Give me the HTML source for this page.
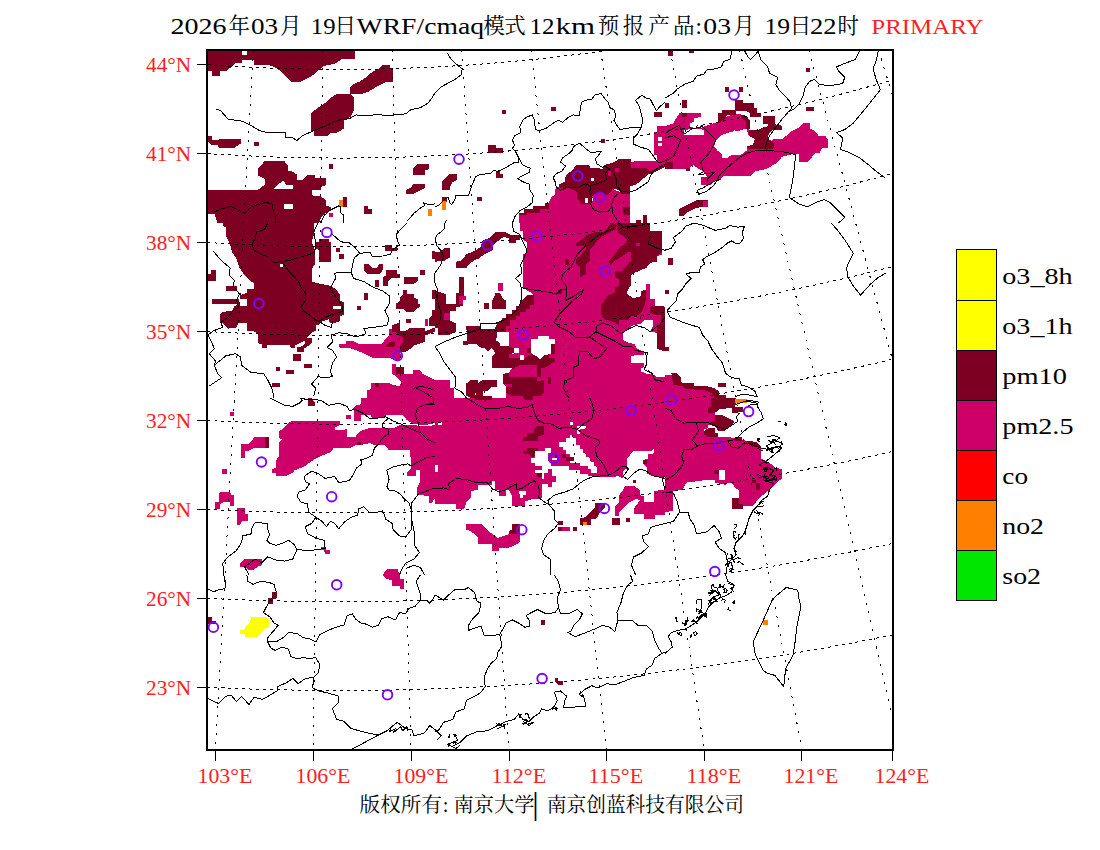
<!DOCTYPE html>
<html lang="zh"><head><meta charset="utf-8"><title>WRF/cmaq PRIMARY</title>
<style>html,body{margin:0;padding:0;background:#fff;width:1100px;height:850px;overflow:hidden}</style></head>
<body>
<svg width="1100" height="850" viewBox="0 0 1100 850" style="position:absolute;left:0;top:0">
<defs><clipPath id="cp"><rect x="208" y="51" width="684" height="698"/></clipPath></defs>
<rect width="1100" height="850" fill="#fff"/>
<g clip-path="url(#cp)" shape-rendering="crispEdges">
<polygon fill="#7d0023" points="207.1,50.1 354.5,50.1 354.5,58.5 343,58.5 334.6,63.7 324.2,65.8 319,70 311.6,76.2 301.2,81.5 290.7,81.5 285.5,76.2 280.3,71 274,66.8 267.7,64.7 254.1,64.7 254.1,59.5 241.6,59.5 241.6,62.6 236.4,62.6 231.1,67.2 225.9,71 219.6,71 219.6,75.6 212.3,75.6 212.3,71 207.1,71"/>
<polygon fill="#ffffff" points="241.6,51.1 246.8,51.1 246.8,55.3 241.6,55.3"/>
<polygon fill="#7d0023" points="382.7,65.1 390,65.1 390,68.9 392.8,68.9 392.8,81.5 384.8,82.5 376.5,86.7 368.1,91.9 359.7,94.4 350.3,94.4 350.3,86.7 353.5,84 359.7,81.5 366,77.3 372.3,72 378.5,68.9"/>
<polygon fill="#7d0023" points="335.7,94.4 351.4,94.4 353.9,97.1 353.9,110.7 350.3,117 344,120.1 344,128.5 336.7,132.7 330.5,132.7 327.3,136.2 314.1,136.2 314.1,131.6 311.2,130.6 311.2,112.8 314.1,110.7 317.9,107.6 325.2,102.8 330.5,98.2"/>
<polygon fill="#7d0023" points="207.1,135.8 212.3,135.8 212.3,140 217.5,140 219.6,139 241,139 241,143.1 238.5,145.2 233.2,148.4 219.6,148.4 217.5,145.2 212.3,145.2 207.1,141"/>
<polygon fill="#7d0023" points="254.1,141.7 258.9,141.7 258.9,146.3 254.1,146.3"/>
<polygon fill="#7d0023" points="264.6,161.3 284.5,161.3 287.6,165.1 287.6,170.3 291.8,171.4 297,174.5 297,179.7 303.3,179.7 307.5,174.5 314.8,174.5 314.8,177.6 325.9,177.6 325.9,185 321,187 321,190.2 311.6,190.2 311.6,195.4 321,196.5 326.3,200.6 326.3,205.9 330.5,206.9 330.5,211.1 325.2,213.2 321,217.4 319,223 207.1,223 207.1,190.2 257.3,190.2 261.5,187 264.6,185 264.6,178.7 258.3,175.5 258.3,168.2"/>
<polygon fill="#ffffff" points="277.1,185 283.4,180.8 286.5,185 292.8,185 292.8,189.1 273,189.1"/>
<polygon fill="#ffffff" points="284,203.8 293.2,203.8 293.2,209 284,209"/>
<polygon fill="#ffffff" points="207.1,214.2 214.4,214.2 217.5,223 207.1,223"/>
<polygon fill="#7d0023" points="328.8,164 333,164 333,168.9 328.8,168.9"/>
<polygon fill="#7d0023" points="417.2,164 428.7,164 428.7,169.3 424.5,170.3 424.5,174.5 413,174.5 413,168.2"/>
<polygon fill="#7d0023" points="413,183.9 425,183.9 425,187.7 420.4,190.2 414.1,193.7 406.1,193.7 406.1,190.2 411,187.7"/>
<polygon fill="#7d0023" points="343,196.9 346.8,196.9 346.8,206.5 343,206.5"/>
<polygon fill="#ff8000" points="339.2,200.2 343,200.2 343,206.5 339.2,206.5"/>
<polygon fill="#7d0023" points="364.3,205.9 368.1,205.9 368.1,209 371.9,209 371.9,213.8 364.3,213.8"/>
<polygon fill="#ff8000" points="428.3,209 431.9,209 431.9,216.3 428.3,216.3"/>
<polygon fill="#cd0069" points="329.4,213.2 333,213.2 333,216.5 329.4,216.5"/>
<polygon fill="#7d0023" points="501.9,109.7 506.1,109.7 506.1,113.9 501.9,113.9"/>
<polygon fill="#7d0023" points="551,107 555.9,107 555.9,110.7 551,110.7"/>
<polygon fill="#7d0023" points="601.2,139 605,139 605,142.7 601.2,142.7"/>
<polygon fill="#7d0023" points="654.1,112.4 661.9,112.4 661.9,117 654.1,117"/>
<polygon fill="#7d0023" points="488.3,145.2 495.6,145.2 495.6,148.4 503,148.4 503,152.5 488.3,152.5"/>
<polygon fill="#7d0023" points="495.6,171.4 499.8,171.4 499.8,173.5 503,173.5 503,177.6 495.6,177.6"/>
<polygon fill="#7d0023" points="476.8,196.9 482,196.9 482,201.1 476.8,201.1"/>
<polygon fill="#7d0023" points="449.2,174.1 457,174.1 457,180.1 452.8,181.8 449.6,187 449.6,190.2 442.3,190.2 442.3,180.8 445.5,177.6"/>
<polygon fill="#7d0023" points="442.3,196.9 446.5,196.9 446.5,201.7 442.3,201.7"/>
<polygon fill="#ff8000" points="442.3,200.6 445.9,200.6 445.9,209.6 442.3,209.6"/>
<polygon fill="#cd0069" points="518.6,215.3 527,215.3 527,213.2 539.5,213.2 539.5,209 549,209 549,202.7 551,197.5 555.2,194.4 555.2,189.1 560.5,185 568.8,188.1 577.2,192.3 577.2,198.5 581.4,203.8 590.8,203.8 590.8,198.5 593.9,194.4 600.2,192.3 606.5,195.4 612.7,189.1 621.1,192.3 629.5,194.4 629.5,223 518.6,223"/>
<polygon fill="#cd0069" points="657.1,126.4 665,126.4 665,162 633.6,162 633.6,160.9 656.6,160.9 656.6,154.6 654.1,154.6 654.1,131.6 657.1,131.6"/>
<polygon fill="#ffffff" points="658.3,136.9 661.9,136.9 661.9,141 658.3,141"/>
<polygon fill="#ffffff" points="658.3,143.1 661.9,143.1 661.9,146.3 658.3,146.3"/>
<polygon fill="#7d0023" points="577.2,164.5 588.7,164.5 590.8,168.2 600.2,168.2 604.4,165.1 614.8,162 619,158.8 630.5,158.8 630.5,162 665,160.9 665,167.2 656.6,171.4 648.3,174.5 642,179.7 635.7,185 629.5,186 629.5,194.4 623.2,194.4 621.1,192.3 616.9,189.1 612.7,189.1 610.6,192.3 606.5,195.4 600.2,192.3 593.9,194.4 590.8,198.5 590.8,203.8 581.4,203.8 577.2,198.5 577.2,192.3 568.8,188.1 560.5,188.1 558.4,185 564.6,181.8 565.7,175.5 570.9,171.4"/>
<polygon fill="#cd0069" points="630.5,162 665,160.9 665,165.1 656.6,168.2 650.4,171.4 646.2,168.2 630.5,168.2"/>
<polygon fill="#7d0023" points="523.9,208.6 533.3,208.6 533.3,205.9 544.8,205.9 544.8,203.1 549,203.1 549,209 539.5,209 539.5,213.2 527,213.2 527,215.3 518.6,215.3 518.6,213.2 523.9,213.2"/>
<polygon fill="#ffffff" points="590.8,177.6 593.9,177.6 593.9,180.8 590.8,180.8"/>
<polygon fill="#ffffff" points="584.5,197.5 587.6,197.5 587.6,202.7 584.5,202.7"/>
<polygon fill="#ffffff" points="590.8,197.5 592.9,197.5 592.9,200.6 590.8,200.6"/>
<polygon fill="#ffffff" points="600.2,166.1 603.3,166.1 603.3,169.3 600.2,169.3"/>
<polygon fill="#cd0069" points="614.8,168.2 619,168.2 619,172.4 614.8,172.4"/>
<polygon fill="#cd0069" points="607.5,171.4 610.6,171.4 610.6,175.5 607.5,175.5"/>
<polygon fill="#7d0023" points="623.2,206.9 629.5,206.9 629.5,215.3 623.2,215.3"/>
<polygon fill="#7d0023" points="635.7,219.5 641,219.5 641,223 635.7,223"/>
<polygon fill="#7d0023" points="643,215.3 647.2,215.3 647.2,223 643,223"/>
<polygon fill="#cd0069" points="679.6,113.2 701,113.2 701,117 694.3,118 694.3,121.2 690.1,123.3 690.1,127 699.5,128.5 706.8,125.4 714.1,123.3 721.5,120.1 727.7,116 737.1,113.9 743.4,114.9 746.5,121.2 748.6,129.5 754.9,131.6 769.5,144.2 773.7,139 782.1,139 786.3,135.8 790.5,131.6 798.8,127.5 803,123.3 810.3,123.3 810.3,128.5 815.5,131.6 818.7,135.8 825,135.8 828.1,140 828.1,148.4 821.8,148.4 819.7,152.5 814.5,153.6 811.4,157.8 807.2,162 798.8,162 798.8,153.6 790.5,154.6 782.1,156.7 777.9,162 771.6,166.1 765.4,169.3 754.9,171.4 750.7,175.5 723.5,175.5 720.4,179.7 714.1,181.8 710,185 700.5,185 700.5,177.6 706.8,176.6 703.7,171.4 699.5,169.3 693.2,165.1 688,169.3 673.4,169.3 673.4,162 665,162 665,126.4 673.4,123.3 675.5,119.1"/>
<polygon fill="#ffffff" points="716.2,140 720.4,135.8 727.7,132.7 733,131.6 734,129.5 737.1,131.6 746.5,128.5 748.6,135.8 754.9,139 752.8,145.2 746.5,146.3 746.5,150.5 741.3,154.6 731.9,154.6 727.7,157.8 721.5,157.8 721.5,153.6 717.3,150.5 714.1,146.3"/>
<polygon fill="#ffffff" points="683.8,130.6 691.1,128.5 699.5,128.5 703.7,130.6 703.7,134.8 683.8,134.8"/>
<polygon fill="#7d0023" points="735,100.3 742.8,100.3 742.8,103.4 753.9,103.4 753.9,107.6 757,107.6 757,113.2 761.2,113.2 761.2,117 749.7,117 749.7,113.2 745.5,110.7 735,110.7"/>
<polygon fill="#7d0023" points="721.5,110.1 736.1,110.1 736.1,114.5 727.7,114.5 725.6,118 721.5,121.2 718.3,123.3 718.3,113.2 721.5,113.2"/>
<polygon fill="#7d0023" points="741.3,114.5 746.5,116 749.7,120.1 749.7,128.5 746.5,128.5 745.5,121.2 741.3,118"/>
<polygon fill="#7d0023" points="763.3,116 774.8,116 774.8,124.3 782.1,125.8 782.1,129.5 773.7,129.5 769.5,132.7 767.5,137.9 773.7,143.1 773.7,148.4 765.4,149.4 746.5,148.4 746.5,145.9 752.8,145.2 754.9,139 748.6,135.8 749.7,129.5 759.1,129.5 763.3,127.5 767.5,126.4 767.5,123.7 763.3,123.7"/>
<polygon fill="#7d0023" points="668.1,51.1 672.9,51.1 672.9,55.9 668.1,55.9"/>
<polygon fill="#7d0023" points="689,50.1 694.3,50.1 694.3,52.6 689,52.6"/>
<polygon fill="#7d0023" points="725.2,87.3 728.8,87.3 728.8,91.5 725.2,91.5"/>
<polygon fill="#7d0023" points="739.2,87.3 742.8,87.3 742.8,91.5 739.2,91.5"/>
<polygon fill="#7d0023" points="682.1,100.3 686.5,100.3 686.5,107.6 682.1,107.6"/>
<polygon fill="#7d0023" points="665,102.8 668.8,102.8 668.8,107.6 665,107.6"/>
<polygon fill="#7d0023" points="681.7,113.2 686.5,113.2 686.5,116.6 681.7,116.6"/>
<polygon fill="#7d0023" points="806.1,67.9 809.9,67.9 809.9,71.6 806.1,71.6"/>
<polygon fill="#7d0023" points="806.1,107.2 813.9,107.2 813.9,110.7 806.1,110.7"/>
<polygon fill="#7d0023" points="665,162 672.9,162 672.9,168.6 665,168.6"/>
<polygon fill="#7d0023" points="685.9,168.2 689.7,168.2 689.7,171.4 685.9,171.4"/>
<polygon fill="#7d0023" points="696.4,200.2 707.9,200.2 707.9,206.5 703.7,206.5 696.4,208 690.1,211.1 685.9,213.2 682.8,216.3 679.2,216.3 679.2,209 682.8,206.9 689,203.8"/>
<polygon fill="#cd0069" points="702.6,200.6 707.9,200.6 707.9,206.5 702.6,206.5"/>
<polygon fill="#7d0023" points="222.8,223 313.7,223 314.8,231.4 311.6,241.8 314.8,250.2 314.8,264.8 311.6,269 311.6,281.5 319,283.6 330.5,285.7 336.7,289.9 339.9,295.1 339.9,300.4 344,302.5 344,315 339.9,316 339.9,321.3 332.5,323.4 329.4,322.3 329.4,319.2 322.1,321.3 319,324.4 315.8,325.5 315.8,330.7 311.6,332.8 307.5,337 304.3,341.1 300.1,343.2 294.9,345.3 294.9,347.8 290.7,347.8 289.7,345.3 266.7,345.3 266.7,347.8 261.5,347.8 261.5,344.3 258.3,343.2 258.3,334.9 255.2,331.7 246.8,330.7 246.8,323.4 238.5,323.4 236.4,327.5 228,328.6 222.8,323.4 219.6,321.3 219.6,315 222.8,311.9 232.2,310.8 234.3,306.6 239.5,303.5 239.5,295.1 246.8,293 246.8,288.9 254.1,288.9 254.1,283.6 250,280.5 244.7,275.3 239.5,268 236.4,258.5 232.2,252.3 230.1,243.9 225.9,235.5 225.9,227.2 222.8,226.1"/>
<polygon fill="#ffffff" points="239.5,299.3 246.8,299.3 246.8,305.6 239.5,305.6"/>
<polygon fill="#ffffff" points="279.9,264.4 283.4,264.4 283.4,266.9 279.9,266.9"/>
<polygon fill="#ffffff" points="333,305.6 340.9,305.6 340.9,308.7 333,308.7"/>
<polygon fill="#7d0023" points="211.3,270 215.9,270 215.9,280.5 208.1,280.5 208.1,274.2 211.3,274.2"/>
<polygon fill="#7d0023" points="225.9,285.7 237.4,285.7 237.4,291 225.9,291"/>
<polygon fill="#7d0023" points="212.3,299.3 238.5,299.3 238.5,304.1 212.3,304.1"/>
<polygon fill="#7d0023" points="319,238.7 329.4,238.7 329.4,241.8 330.5,241.8 330.5,261.7 319,261.7 319,250.2 314.8,248.1 314.8,241.8 319,241.8"/>
<polygon fill="#7d0023" points="336.3,248.1 339.9,248.1 339.9,251.9 336.3,251.9"/>
<polygon fill="#7d0023" points="338.8,253.9 344,253.9 344,259 338.8,259"/>
<polygon fill="#7d0023" points="431.9,251.2 435,251.2 435,258.5 431.9,258.5"/>
<polygon fill="#7d0023" points="374.8,279.5 379,279.5 379,286.8 374.8,286.8"/>
<polygon fill="#7d0023" points="420.4,270 425,270 425,274.9 420.4,274.9"/>
<polygon fill="#7d0023" points="403.2,289.9 406.8,289.9 406.8,293.7 403.2,293.7"/>
<polygon fill="#7d0023" points="364.3,293 368.1,293 368.1,299.9 364.3,299.9"/>
<polygon fill="#7d0023" points="357.2,306 360.8,306 360.8,309.8 357.2,309.8"/>
<polygon fill="#7d0023" points="431.9,289.9 435,289.9 435,299.3 431.9,299.3"/>
<polygon fill="#7d0023" points="406.1,318.8 411,318.8 411,322.9 406.1,322.9"/>
<polygon fill="#7d0023" points="293.2,353.7 300.8,353.7 300.8,360.6 293.2,360.6"/>
<polygon fill="#7d0023" points="276.1,366.9 279.9,366.9 279.9,370.6 276.1,370.6"/>
<polygon fill="#7d0023" points="286.1,370 293.9,370 293.9,374 286.1,374"/>
<polygon fill="#7d0023" points="304.3,364.1 312.1,364.1 312.1,367.9 304.3,367.9"/>
<polygon fill="#7d0023" points="271.9,383 279.9,383 279.9,386.7 271.9,386.7"/>
<polygon fill="#7d0023" points="385.2,245 392.1,245 392.1,248.1 397.4,248.1 397.4,251.2 385.2,251.2"/>
<polygon fill="#7d0023" points="363.9,263.8 368.1,263.8 372.3,268 376.5,268 379.6,263.8 382.7,263.8 382.7,270 379.6,274.2 368.1,274.2 363.9,270"/>
<polygon fill="#7d0023" points="385.9,270 397.4,270 397.4,274.2 399.5,274.2 399.5,277.8 392.1,277.8 388,281.5 388,285.7 382.7,285.7 382.7,277.4 385.9,275.3"/>
<polygon fill="#7d0023" points="403.6,276.9 417.9,276.9 417.9,281.1 414.1,283.6 403.6,283.6"/>
<polygon fill="#7d0023" points="404.7,293.7 414.1,293.7 414.1,298.3 417.9,298.7 417.9,303.5 420.4,303.5 420.4,306.6 417.2,308.7 414.1,311.9 406.8,311.9 403.6,308.7 396.3,308.7 396.3,303.5 399.5,301.4 399.5,297.2"/>
<polygon fill="#7d0023" points="431.9,309.8 435,309.8 435,325.5 428.7,325.5 428.7,319.2 431.9,316"/>
<polygon fill="#7d0023" points="305.4,338 311.6,338 311.6,343.2 307.5,346.4 304.3,348.5 304.3,351.6 297,351.6 297,347.4 301.6,346.4 305.4,343.2"/>
<polygon fill="#cd0069" points="424.5,319.2 428.3,319.2 428.3,325.5 424.5,325.5"/>
<polygon fill="#cd0069" points="389,328.6 392.1,328.6 392.1,331.7 395.3,331.7 399.5,335.9 402.6,337 402.6,343.2 399.5,346.4 399.5,351.6 401.5,356.8 397.4,361 389,357.9 372.3,357.9 366,354.7 359.7,351.6 351.4,348.5 338.8,347.4 338.8,344.3 346.1,344.3 346.1,341.1 353.5,341.1 359.7,344.3 381.7,344.3 384.8,340.1 389,335.9"/>
<polygon fill="#cd0069" points="392.1,364.1 396.3,364.1 396.3,367.3 403.6,367.3 403.6,373.5 413,373.5 413,370.4 420.4,370.4 422.5,373.5 428.7,376.7 435,379.8 435,398 367,398 367,390.3 371.2,389.2 371.2,383 389,383 393.2,385 399.5,386.1 401.5,381.9 397.4,377.7 392.1,373.5"/>
<polygon fill="#7d0023" points="392.1,325.5 399.5,322.3 399.5,330.7 405.7,330.7 411,327.5 424.5,327.5 424.5,331.7 435,327.5 435,331.7 424.5,335.9 424.5,342.2 414.1,345.3 411,348.5 405.7,351.6 399.5,351.6 399.5,346.4 402.6,343.2 402.6,337 399.5,335.9 395.3,331.7 392.1,331.7"/>
<polygon fill="#7d0023" points="389,342.2 395.3,342.2 395.3,346.4 385.9,347.4 385.9,345.3"/>
<polygon fill="#7d0023" points="395.7,367.3 403.6,367.3 403.6,373.5 395.7,373.5"/>
<polygon fill="#7d0023" points="374.8,383 379,383 379,386.7 374.8,386.7"/>
<polygon fill="#cd0069" points="519.7,223 519.7,230.3 522.8,231.4 522.8,239.7 527,241.8 527,252.3 522.8,254.4 522.8,287.8 533.3,294.1 533.3,295.1 527,295.1 522.8,299.3 518.6,303.5 512.4,308.7 506.1,312.9 499.8,318.1 495.6,322.3 491.5,325.5 476.8,325.5 466.4,325.5 466.4,333.8 476.8,337 476.8,342.2 484.1,346.4 491.5,346.4 495.6,348.5 495.6,352.6 491.5,356.8 491.5,369.4 497.7,369.4 504,373.5 504,379.8 501.9,381.9 501.9,388.2 504,390.3 504,398 665,398 665,223"/>
<polygon fill="#ffffff" points="650.4,223 665,223 665,251.2 661.9,251.2 661.9,231.4 650.4,231.4"/>
<polygon fill="#7d0023" points="610.6,223 616.9,223 614.8,229.3 608.5,233.5 602.3,236.6 597,240.8 593.9,246 589.7,250.2 589.7,260.6 585.5,264.8 585.5,274.2 580.3,277.4 580.3,268 576.1,263.8 576.1,259.6 581.4,254.4 585.5,250.2 585.5,246 576.1,246 576.1,242.9 581.4,239.7 585.5,235.5 593.9,232.4 602.3,232.4 606.5,229.3"/>
<polygon fill="#7d0023" points="616.9,223 650.4,223 650.4,231.4 661.9,231.4 661.9,251.2 656.6,256.5 656.6,261.7 650.4,262.7 646.2,268 641,270 633.6,273.2 630.5,275.3 630.5,285.7 627.4,291 627.4,294.1 633.6,298.3 641,296.2 641,291 646.2,289.9 646.2,298.3 644.1,306.6 641,312.9 636.8,316 631.5,316 627.4,320.2 619,320.2 619,325.5 614.8,322.3 604.4,319.2 601.2,315 601.2,304.5 604.4,300.4 608.5,295.1 614.8,293 614.8,287.8 619,285.7 619,279.5 614.8,276.3 614.8,271.1 622.1,271.1 627.4,264.8 630.5,260.6 630.5,252.3 627.4,252.3 622.1,256.5 614.8,260.6 610.6,264.8 608.5,260.6 614.8,254.4 619,248.1 625.3,243.9 627.4,239.7 623.2,235.5 619,233.5 616.9,229.3"/>
<polygon fill="#cd0069" points="635.7,242.9 639.9,242.9 639.9,246 635.7,246"/>
<polygon fill="#7d0023" points="650.4,306.6 661.9,305.6 665,305.6 665,323.4 660.8,323.4 660.8,315 656.6,315 650.4,312.9"/>
<polygon fill="#7d0023" points="656.6,327.5 661.9,323.4 665,323.4 665,351.6 656.6,348.5"/>
<polygon fill="#7d0023" points="565.1,259 569.2,259 569.2,264.8 565.1,264.8"/>
<polygon fill="#7d0023" points="558.4,289.9 562.1,289.9 562.1,293.7 558.4,293.7"/>
<polygon fill="#ffffff" points="665,250.2 661.9,251.2 661.9,254.4 656.6,256.5 656.6,261.7 650.4,262.7 646.2,268 641,270 633.6,273.2 630.5,275.3 630.5,285.7 627.4,291 627.4,294.1 633.6,298.3 641,296.2 641,291 646.2,289.9 646.2,283.6 650.4,283.6 650.4,299.3 654.5,299.3 654.5,305.6 665,306.6"/>
<polygon fill="#ffffff" points="623.2,333.8 627.4,329.6 632.6,325.5 641,323.4 644.1,320.2 652.5,320.2 653.5,325.5 650.4,331.7 656.6,332.8 656.6,348.5 665,351.6 665,376.7 656.6,376.7 651.4,373.5 646.2,373.5 641,371.5 641,368.3 644.1,367.3 644.1,363.1 630.5,363.1 630.5,355.8 644.1,354.7 644.1,351.6 636.8,348.5 634.7,344.3 627.4,342.2 623.2,340.1"/>
<polygon fill="#7d0023" points="527,295.1 533.7,295.1 533.7,302.5 529.1,305.6 522.8,310.8 517.6,315 512.4,319.2 508.2,323.4 506.1,326.5 506.1,333.8 496.7,333.8 496.7,339 501.9,340.1 501.9,344.3 509.2,346.4 514.5,347.4 514.5,350.5 509.2,353.7 495.6,353.7 495.6,348.5 491.5,346.4 484.1,346.4 476.8,342.2 476.8,337 466.4,333.8 466.4,325.5 476.8,325.5 491.5,325.5 495.6,322.3 499.8,318.1 506.1,312.9 512.4,308.7 518.6,303.5 522.8,299.3"/>
<polygon fill="#7d0023" points="491.5,353.7 514.5,353.7 519.7,355.8 519.7,360 523.9,360 523.9,355.8 528,351.6 531.2,356.8 534.3,354.7 537.5,357.9 544.8,357.9 547.9,355.8 551,355.8 551,365.2 545.8,365.2 545.8,369.4 541.6,369.4 541.6,377.7 544.8,377.7 544.8,398 504,398 504,390.3 501.9,388.2 501.9,381.9 504,379.8 504,373.5 497.7,369.4 491.5,369.4"/>
<polygon fill="#cd0069" points="509.2,356.8 519.7,360 531.2,361 531.2,365.2 519.7,365.2 514.5,369.4 509.2,367.3"/>
<polygon fill="#cd0069" points="514.5,369.4 530.1,365.2 530.1,377.7 537.5,377.7 537.5,370.4 541.6,370.4 541.6,381.9 537.5,381.9 530.1,378.8 518.6,378.8 514.5,376.7 509.2,376.7 509.2,372.5"/>
<polygon fill="#ffffff" points="531.2,340.1 537.5,337 547.9,337 551,340.1 555.2,340.1 555.2,344.3 551,344.3 551,351.6 555.2,351.6 555.2,354.7 547.9,355.8 544.8,357.9 537.5,357.9 534.3,354.7 531.2,356.8 528,351.6 531.2,348.5"/>
<polygon fill="#ffffff" points="514.5,347.4 528,348.5 528,351.6 523.9,355.8 523.9,360 519.7,360 519.7,355.8 514.5,353.7 509.2,353.7 514.5,350.5"/>
<polygon fill="#ffffff" points="501.9,340.1 509.2,337 509.2,346.4 501.9,344.3"/>
<polygon fill="#ffffff" points="496.7,337 501.9,337 501.9,340.1 496.7,340.1"/>
<polygon fill="#ffffff" points="504,381.9 511.3,384 511.3,387.1 504,388.2"/>
<polygon fill="#7d0023" points="495.6,232.4 506.1,232.4 510.3,234.5 519.7,234.5 519.7,239.7 515.5,239.7 515.5,242.9 509.2,242.9 509.2,238.7 504,236.6 499.8,239.7 495.6,242.9 492.5,246 492.5,250.2 484.1,254.4 478.9,258.5 473.7,260.6 469.5,263.8 466.4,268 455.9,268 455.9,261.7 461.1,260.6 466.4,254.4 473.7,251.2 481,247 482,240.8 490.4,237.6"/>
<polygon fill="#7d0023" points="435,252.3 439.2,252.3 444.4,248.1 449.6,248.1 449.6,257.5 444.4,260.6 435,261.7"/>
<polygon fill="#7d0023" points="435,289.9 439.2,292 445.5,294.1 445.5,303.5 455.9,303.5 455.9,293 459,293 459,276.9 463.6,276.9 463.6,296.2 466.4,296.2 466.4,305.6 459,306.6 455.9,306.6 455.9,310.8 449.6,310.8 449.6,320.2 455.9,323.4 455.9,331.7 449.6,334.9 438.1,334.9 438.1,328.6 435,327.5"/>
<polygon fill="#cd0069" points="459,296.2 466.4,296.2 466.4,303.5 459,303.5"/>
<polygon fill="#cd0069" points="444.4,312.9 449.6,312.9 449.6,320.2 444.4,320.2"/>
<polygon fill="#cd0069" points="497.7,283 503,283 503,291 497.7,291"/>
<polygon fill="#7d0023" points="495.6,293 499.8,293 506.1,303.5 506.1,309.8 491.5,309.8 491.5,303.5"/>
<polygon fill="#7d0023" points="484.1,303.5 488.9,303.5 488.9,309.8 484.1,309.8"/>
<polygon fill="#cd0069" points="435,379.8 449.6,379.8 449.6,388.2 453.8,388.2 453.8,398 435,398"/>
<polygon fill="#7d0023" points="466.4,384 471.6,379.8 495.6,379.8 495.6,388.2 488.3,390.3 495.6,394.5 495.6,398 466.4,398"/>
<polygon fill="#ffffff" points="482,390.3 488.3,390.3 488.3,394.5 482,394.5"/>
<polygon fill="#ffffff" points="463.2,300 558.3,300 558.3,398 463.2,398"/>
<polygon fill="#cd0069" points="533.5,300 533.5,304.6 529.7,304.6 529.7,308.5 525.8,308.5 525.8,312.4 519.6,312.4 519.6,316.2 515.8,316.2 515.8,320.1 510.4,320.1 510.4,325.5 505.7,325.5 505.7,331.7 508.8,331.7 508.8,346.4 513.5,347.9 513.5,354.1 508.8,354.1 508.8,358 511.9,358 511.9,368 508.8,372.6 502.6,374.2 502.6,383.5 505.7,386.5 505.7,398 558.3,398 558.3,300"/>
<polygon fill="#7d0023" points="519.6,300 533.5,300 533.5,304.6 529.7,304.6 529.7,308.5 525.8,308.5 525.8,312.4 519.6,312.4 519.6,316.2 515.8,316.2 515.8,320.1 510.4,320.1 510.4,325.5 505.7,325.5 505.7,331.7 497.2,331.7 497.2,328.6 494.9,328.6 498,321.6 501.9,321.6 501.9,317.8 505.7,317.8 505.7,313.9 511.9,313.9 511.9,310 515.8,310 515.8,306.2 519.6,306.2"/>
<polygon fill="#7d0023" points="466.3,325.5 481,325.5 481,328.6 497.2,328.6 497.2,336.3 495.7,340.2 499.5,342.5 499.5,346.4 508.8,346.4 513.5,347.9 513.5,353.3 508.8,354.1 508.8,358 511.9,358 511.9,368 491.8,368 491.8,357.2 495.7,353.3 491.8,347.9 488,351.8 484.1,347.9 481,347.9 476.4,344 463.2,344.8 463.2,341 467.1,341"/>
<polygon fill="#7d0023" points="508.8,358 519.6,358 519.6,354.9 523.5,354.9 523.5,359.5 528.1,355.6 532,354.1 536.6,356.4 540.5,359.5 544.4,354.9 549,354.1 549,358 555.2,358 555.2,361.8 550.5,363.4 550.5,364.9 544.4,368 540.5,368 540.5,380.4 544.4,380.4 544.4,392.7 540.5,395.8 532.8,395.8 532.8,399.7 522.7,399.7 522.7,395.8 511.9,395.8 505.7,392.7 505.7,386.5 511.9,386.5 511.9,383.5 502.6,383.5 502.6,374.2 508.8,372.6 511.9,369.5 511.9,358"/>
<polygon fill="#cd0069" points="511.9,369.5 519.6,364.9 536.6,364.9 536.6,377.3 508.8,377.3 508.8,372.6"/>
<polygon fill="#cd0069" points="536.6,377.3 540.5,377.3 540.5,381.1 536.6,381.1"/>
<polygon fill="#7d0023" points="536.6,370.3 540.5,370.3 540.5,376.5 536.6,376.5"/>
<polygon fill="#7d0023" points="551.3,344 555.2,344 555.2,354.1 551.3,354.1"/>
<polygon fill="#7d0023" points="527.4,347.9 531.2,347.9 531.2,352.5 527.4,352.5"/>
<polygon fill="#7d0023" points="548.2,377.3 551,377.3 551,383.5 548.2,383.5"/>
<polygon fill="#cd0069" points="508.8,354.9 515.8,354.9 515.8,358 508.8,358"/>
<polygon fill="#7d0023" points="470.2,380.4 477.9,380.4 477.9,383.5 481.8,380.4 496.5,380.4 496.5,386.5 491.8,386.5 488.7,390.4 482.5,391.2 482.5,395.8 491.8,395.8 491.8,398.9 474,398.9 470.2,397.4 466.3,395.8 466.3,383.5"/>
<polygon fill="#ffffff" points="483.3,391.2 485.6,391.2 485.6,394.3 483.3,394.3"/>
<polygon fill="#ffffff" points="474.8,392.7 476.4,392.7 476.4,395 474.8,395"/>
<polygon fill="#ffffff" points="531.2,339.4 538.2,339.4 538.2,336.3 549,336.3 549,339.4 555.2,339.4 555.2,344 551.3,344 551.3,354.1 544.4,354.9 540.5,359.5 536.6,356.4 532,354.1 531.2,352.5"/>
<polygon fill="#ffffff" points="497.2,336.3 505.7,331.7 508.8,331.7 508.8,346.4 499.5,346.4 499.5,342.5 495.7,340.2"/>
<polygon fill="#ffffff" points="513.5,347.9 518.9,347.9 518.9,353.3 513.5,353.3"/>
<polygon fill="#ffffff" points="519.6,354.9 523.5,354.9 523.5,359.5 519.6,359.5"/>
<polygon fill="#7d0023" points="484.1,303.1 488.7,303.1 488.7,309.3 484.1,309.3"/>
<polygon fill="#7d0023" points="491.8,300 505.7,300 505.7,309.3 491.8,309.3"/>
<polygon fill="#7d0023" points="668.1,258.1 672.9,258.1 672.9,264.8 668.1,264.8"/>
<polygon fill="#7d0023" points="665,289.9 668.8,289.9 668.8,293.7 665,293.7"/>
<polygon fill="#7d0023" points="665,347.4 668.8,347.4 668.8,351.2 665,351.2"/>
<polygon fill="#7d0023" points="718.3,383 725.6,383 725.6,386.7 718.3,386.7"/>
<polygon fill="#cd0069" points="665,374.6 671.3,374.6 673.4,381.9 682.8,383 685.9,386.1 703.7,387.1 706.8,389.2 714.1,390.3 719.4,394.5 725.6,395.5 725.6,398 665,398"/>
<polygon fill="#7d0023" points="671.3,372.5 675.5,372.5 680.7,377.7 681.7,383 694.3,383 694.3,386.1 706.8,386.1 714.1,388.2 719.4,391.3 719.4,394.5 725.6,395.5 725.6,398 714.1,398 712,393.4 704.7,390.3 696.4,389.6 685.9,389.2 682.8,386.1 673.4,385 672.3,378.8"/>
<polygon fill="#cd0069" points="360.8,398 435,398 435,423.1 424.5,425.2 414.1,424.1 406.8,420 402.6,414.7 386.9,414.7 384.8,417.9 372.3,417.9 370.2,414.7 360.8,414.7 360.8,421 353.5,421 353.5,408.5 356.6,405.3 360.8,404.3"/>
<polygon fill="#cd0069" points="290.7,421.4 339.9,421.4 339.9,425.2 334.6,427.3 334.6,430.4 343,430.4 347.2,428.3 347.2,436.7 355.5,436.7 359.7,431.5 368.1,428.3 393.2,428.3 399.5,425.2 414.1,425.2 424.5,426.2 435,425.2 435,498.4 431.9,502.5 428.7,502.5 428.7,496.3 417.2,494.2 417.2,487.9 420.4,481.6 420.4,470.1 416.2,470.1 416.2,476.4 406.8,476.4 406.8,472.2 411,469.1 411,462.8 409.9,450.3 389,450.3 386.9,447.1 384.8,445 374.4,445 370.2,443 360.8,445 355.5,445 349.3,448.2 333.6,448.2 330.5,452.4 322.1,455.5 315.8,458.6 309.5,462.8 303.3,467 294.9,470.1 291.8,473.3 284.5,476.4 276.1,476.4 276.1,473.3 271.9,473.3 271.9,469.1 276.1,468 276.1,460.7 279.2,455.5 279.2,441.9 282.4,439.8 279.2,437.7 279.2,431.5 283.4,428.3 286.5,425.2"/>
<polygon fill="#cd0069" points="254.1,437.3 268.8,437.3 268.8,447.8 254.1,447.8 250,450.3 244.7,451.3 244.7,457.6 240.5,457.6 240.5,444.4 248.9,443.6 252,440.9"/>
<polygon fill="#7d0023" points="265.2,437.3 268.8,437.3 268.8,447.8 265.2,447.8"/>
<polygon fill="#cd0069" points="229.7,411.6 234.3,411.6 234.3,415.8 229.7,415.8"/>
<polygon fill="#cd0069" points="346.1,414.7 350.7,414.7 350.7,418.9 346.1,418.9"/>
<polygon fill="#cd0069" points="222.1,469.1 226.5,469.1 226.5,473.7 222.1,473.7"/>
<polygon fill="#cd0069" points="219.6,492.1 230.1,492.1 231.1,495.2 233.9,495.2 233.9,505.7 230.1,505.7 229.7,501.5 224.9,501.5 219.6,504.6 219.6,508.8 215,508.8 215,502.5 218.6,501.5"/>
<polygon fill="#cd0069" points="237.4,507.8 244.7,507.8 244.7,514 247.9,514 247.9,521.4 241.6,521.4 240.5,524.5 237.4,524.5"/>
<polygon fill="#cd0069" points="244.7,559 261.5,559 261.5,565.3 258.3,566.3 254.1,569.5 247.9,569.5 244.7,566.9 240.1,566.9 240.1,563.2"/>
<polygon fill="#cd0069" points="321,546.9 325.9,546.9 325.9,550.2 330,550.2 330,554.4 325.2,554.4 324.2,550.6 321,549.6"/>
<polygon fill="#cd0069" points="386.9,569 397.4,569 399.5,575 382.7,575"/>
<polygon fill="#7d0023" points="307.5,398 311.6,398 314.8,402.2 314.8,405.9 307.5,405.9"/>
<polygon fill="#7d0023" points="357.2,441.5 360.8,441.5 360.8,445 357.2,445"/>
<polygon fill="#cd0069" points="435,398 665,398 665,477 656.6,477.5 648.3,474.3 636.8,474.3 633.6,478.5 623.2,478.5 619,476.4 602.3,477 588.7,475.8 579.3,480.6 573,485.8 568.8,490 560.5,493.1 554.2,495.2 549,500.5 541.6,498.4 537.5,499.4 531.2,499.4 524.9,501.5 524.9,505.7 512.4,505.7 512.4,496.3 509.2,490 506.1,490 506.1,496.3 498.8,496.3 498.8,490 494.6,490 494.6,480.6 491.5,480.6 491.5,484.8 477.9,484.8 477.9,490 470.5,491 470.5,498.4 466.4,502.5 464.3,508.8 455.9,508.8 455.9,503.6 435,503.6"/>
<polygon fill="#ffffff" points="541.6,490 568.8,490 560.5,493.1 554.2,495.2 549,500.5 541.6,498.4"/>
<polygon fill="#ffffff" points="627.4,458.6 630.5,454.5 633.6,451.3 650.4,451.3 653.5,449.2 653.5,453.4 648.3,454.5 648.3,458.6 644.1,459.7 644.1,464.9 647.2,467 647.2,474.3 636.8,474.3 633.6,478.5 623.2,478.5 623.2,471.2 627.4,468"/>
<polygon fill="#ffffff" points="569.9,422 573.4,422 573.4,425.2 569.9,425.2"/>
<polygon fill="#ffffff" points="577.2,426.2 585.5,426.2 585.5,428.3 580.3,429.4 580.3,433.5 577.2,433.5"/>
<polygon fill="#ffffff" points="438.1,422 442.3,422 442.3,425.2 438.1,425.2"/>
<polygon fill="#ffffff" points="435,464.9 437.5,464.9 437.5,472.2 435,472.2"/>
<polygon fill="#ffffff" points="518.6,491 526,491 526,495.2 522.8,495.2 522.8,497.9 519.7,497.9 519.7,495.2"/>
<polygon fill="#7d0023" points="527,432.5 534.3,432.5 534.3,429.4 537.5,426.2 543.7,426.2 543.7,434.6 537.5,436.7 537.5,440.9 522.8,440.9 522.8,437.7 527,436.7"/>
<polygon fill="#7d0023" points="527,448.2 537.5,448.2 537.5,455.5 531.2,457.6 530.1,454.5 522.8,453.4 522.8,451.3 527,451.3"/>
<polygon fill="#7d0023" points="643,460.3 647.2,460.3 647.2,463.9 643,463.9"/>
<polygon fill="#7d0023" points="633.2,479.5 636.1,479.5 636.1,482.7 633.2,482.7"/>
<polygon fill="#7d0023" points="474.7,398 491.5,398 491.5,399.7 474.7,399.7"/>
<polygon fill="#7d0023" points="523.9,398 533.3,398 533.3,399.7 523.9,399.7"/>
<polygon fill="#cd0069" points="623.2,490 625.3,485.8 633.6,485.8 636.8,487.9 639.9,490 639.9,495.2 644.1,496.3 648.3,492.1 650.4,486.9 653.5,486.9 653.5,491 661.9,490 665,490 665,515.1 654.5,515.1 654.5,519.3 644.1,519.3 644.1,514 633.6,514 633.6,508.8 639.9,500.5 636.8,498.4 629.5,502.5 624.2,507.8 619,512 619,516.1 614.8,516.1 614.8,506.7 619,502.5 619,495.2"/>
<polygon fill="#ffffff" points="650.4,486.9 653.5,486.9 653.5,501.5 644.1,501.5 644.1,496.3 648.3,492.1"/>
<polygon fill="#cd0069" points="466.4,524.1 482,524.1 485.2,527.6 489.4,531.8 495.6,536 497.7,538.1 509.2,533.9 509.2,530.8 512.4,529.7 512.4,524.1 519.7,524.1 519.7,542.3 516.5,544.4 509.2,547.5 499.8,547.5 498.8,550.6 491.5,550.6 491.5,544.4 477.9,544.4 477.9,537 474.7,533.9 469.5,530.8 466.4,529.7"/>
<polygon fill="#7d0023" points="512.4,524.1 518.6,524.1 518.6,533.9 509.2,533.9 509.2,530.8 512.4,529.7"/>
<polygon fill="#7d0023" points="595,502.5 605.4,502.5 605.4,506.7 600.2,512 596,519.3 590.8,519.3 590.8,524.5 580.3,524.5 580.3,518.2 585.5,517.2 590.8,512 595,507.8"/>
<polygon fill="#ff8000" points="583,521.8 587,521.8 587,524.9 583,524.9"/>
<polygon fill="#7d0023" points="611.7,518.2 620,518.2 620,524.5 611.7,524.5"/>
<polygon fill="#7d0023" points="626.3,517.6 630.1,517.6 630.1,521.8 626.3,521.8"/>
<polygon fill="#7d0023" points="557.9,521.4 562.5,521.4 562.5,524.9 557.9,524.9"/>
<polygon fill="#7d0023" points="557.9,527.2 562.1,527.2 562.1,530.8 557.9,530.8"/>
<polygon fill="#7d0023" points="573,527.2 576.8,527.2 576.8,530.8 573,530.8"/>
<polygon fill="#cd0069" points="562.1,527.2 569.9,527.2 569.9,530.8 562.1,530.8"/>
<polygon fill="#ffffff" points="570,435.1 572.9,435.1 572.9,438 575.8,438 575.8,445.3 580.2,445.3 580.2,448.5 583.1,448.5 583.1,453.3 586.4,453.6 586.4,457.3 590,457.6 590,461.3 594,462 594,465.6 596.9,466.7 596.9,472.9 591.1,472.9 591.1,469.3 588.2,469.3 588.2,466 580.2,465.6 580.2,462.7 570,462.7 570,460.5 574,460.5 574,457.3 570,457.3 570,454.4 566,454 566,450 562.7,450 562.7,446.7 559.1,446.7 559.1,442 566,442 566,438 570,438"/>
<polygon fill="#ffffff" points="531.1,458 535.1,458 535.1,451.1 544.9,451.1 544.9,448.2 551.1,448.2 551.1,453.3 548.2,453.3 548.2,460.5 551.1,464.2 551.1,466.4 569.3,466.4 569.3,469.6 580.2,469.6 580.2,473.6 587.5,473.6 587.5,476.5 589.6,477.3 583.8,483.8 576.5,487.5 573.6,490 542,490 542,483.5 543.8,483.5 543.8,478.7 542,478.7 542,472.9 535.1,472.9 535.1,469.6 541.6,469.6 541.6,466.4 535.1,466.4 535.1,462.7 531.1,462.7"/>
<polygon fill="#cd0069" points="547.8,469.3 551.8,469.3 551.8,475.8 555.8,475.8 555.8,482.4 551.8,482.4 551.8,486.7 547.8,486.7 547.8,483.5 543.8,483.5 543.8,472.9 547.8,472.9"/>
<polygon fill="#7d0023" points="537.3,473.3 541.6,473.3 541.6,476.5 537.3,476.5"/>
<polygon fill="#7d0023" points="562,454 565.6,454 565.6,457.6 562,457.6"/>
<polygon fill="#7d0023" points="565.6,457.3 574,457.3 574,460.5 565.6,460.5"/>
<polygon fill="#7d0023" points="555.1,455.1 556.9,455.1 556.9,457.6 555.1,457.6"/>
<polygon fill="#ffffff" points="551.8,458 556.9,458 556.9,459.8 551.8,459.8"/>
<polygon fill="#cd0069" points="665,398 711,398 711,406.4 707.9,408.5 707.9,412.6 715.2,412.6 715.2,423.1 707.9,425.2 707.9,428.3 703.7,429.4 703.7,434.6 708.9,436.7 736.1,437.7 746.5,440.9 757,441.9 761.2,447.1 761.2,458.6 765.4,460.7 769.5,462.8 775.8,468 782.1,469.1 782.1,478.5 777.9,481.6 773.7,485.8 769.5,490 765.4,493.1 761.2,496.3 757,500.5 752.8,505.7 742.4,505.7 742.4,508.8 731.9,508.8 731.9,498.4 739.2,498.4 739.2,490 735,487.9 731.9,482.7 727.7,482.7 725.6,484.8 715.2,482.7 715.2,479.5 710,479.5 685.9,482.7 682.8,490 673.4,491 673.4,510.9 665,512"/>
<polygon fill="#ffffff" points="719.4,470.1 724.6,470.1 724.6,480 719.4,480"/>
<polygon fill="#7d0023" points="711,398 736.1,398 736.1,404.3 734,407.4 719.4,409.5 715.2,412.6 707.9,412.6 707.9,408.5 711,406.4"/>
<polygon fill="#7d0023" points="731.9,407.4 743.4,407.4 743.4,411.6 737.1,412.6 731.9,412.6"/>
<polygon fill="#7d0023" points="715.2,414.7 721.5,414.7 727.7,417.9 734,421 733,425.2 727.7,427.3 725.6,430.4 718.3,431.5 715.2,426.2 710,425.2 710,422 715.2,421"/>
<polygon fill="#7d0023" points="707.9,428.3 715.2,428.3 715.2,432.5 718.3,432.5 718.3,436.7 707.9,436.7 703.7,434.6 703.7,431.5"/>
<polygon fill="#7d0023" points="735,436.7 742.4,436.7 742.4,440.9 735,440.9"/>
<polygon fill="#7d0023" points="746.5,440.9 757,441.9 761.2,447.1 752.8,447.1 748.6,444"/>
<polygon fill="#7d0023" points="714.1,470.1 718.9,470.1 718.9,473.7 714.1,473.7"/>
<polygon fill="#7d0023" points="752.4,479.5 756,479.5 756,483.3 752.4,483.3"/>
<polygon fill="#7d0023" points="756,482.7 760.1,482.7 760.1,490 756,490"/>
<polygon fill="#7d0023" points="731.9,498.4 739.2,498.4 739.2,503.6 742.8,503.6 742.8,508.8 731.9,508.8"/>
<polygon fill="#ff8000" points="735.3,399 747,399 747,403 735.3,403"/>
<polygon fill="#cd0069" points="382.7,575 399.5,575 399.5,579.2 403.6,579.2 403.6,588.6 399.5,588.6 399.5,585.5 392.1,585.5 392.1,580.2 386.9,579.2"/>
<polygon fill="#7d0023" points="271.9,592.1 276.7,592.1 276.7,598.4 273,599 273,604.3 267.7,604.3 267.7,598.4 271.9,597.6"/>
<polygon fill="#7d0023" points="208.1,616.8 212.3,616.8 212.3,621 215.5,621 215.5,624.1 208.1,624.1"/>
<polygon fill="#ffff00" points="251,616.8 265.6,616.8 268.8,620 268.8,627.3 265.6,628.3 261.5,632.5 258.3,636.7 244.7,636.7 244.7,633.5 240.1,633.5 240.1,630.4 243.7,629.8 246.8,625.2 250,623.1"/>
<polygon fill="#7d0023" points="541,620.4 544.8,620.4 544.8,624.8 541,624.8"/>
<polygon fill="#7d0023" points="555.2,677.9 558.4,677.9 558.4,681.2 563,681.2 563,685.4 558.4,685.4 555.2,682.1"/>
<polygon fill="#ff8000" points="763.3,620 767.9,620 767.9,624.8 763.3,624.8"/>
<g fill="none" stroke="#000" stroke-width="1" stroke-dasharray="3 4">
<path stroke-dasharray="2 7" d="M183.8 50.0L117.8 750.0"/>
<path stroke-dasharray="2 7" d="M253.2 50.0L215.5 750.0"/>
<path stroke-dasharray="2 7" d="M322.7 50.0L313.2 750.0"/>
<path stroke-dasharray="2 7" d="M392.2 50.0L411.0 750.0"/>
<path stroke-dasharray="2 7" d="M461.7 50.0L508.8 750.0"/>
<path stroke-dasharray="2 7" d="M531.1 50.0L606.5 750.0"/>
<path stroke-dasharray="2 7" d="M600.6 50.0L704.2 750.0"/>
<path stroke-dasharray="2 7" d="M670.1 50.0L802.0 750.0"/>
<path stroke-dasharray="2 7" d="M739.6 50.0L899.8 750.0"/>
<path stroke-dasharray="2 7" d="M809.0 50.0L997.5 750.0"/>
<path stroke-dasharray="2 7" d="M878.5 50.0L1095.2 750.0"/>
<path d="M207.5 64.6L219.5 65.5L231.5 66.2L243.5 66.9L255.5 67.4L267.5 67.9L279.5 68.4L291.5 68.7L303.5 69.0L315.5 69.2L327.5 69.3L339.5 69.4L351.5 69.3L363.5 69.2L375.5 69.1L387.5 68.8L399.5 68.5L411.5 68.0L423.5 67.6L435.5 67.0L447.5 66.3L459.5 65.6L471.5 64.8L483.5 63.9L495.5 63.0L507.5 62.0L519.5 60.8L531.5 59.7L543.5 58.4L555.5 57.0L567.5 55.6L579.5 54.1L591.5 52.5L603.5 50.9L615.5 49.1L627.5 47.3L639.5 45.4L651.5 43.4L663.5 41.3L675.5 39.2L687.5 36.9L699.5 34.6L711.5 32.2L723.5 29.8L735.5 27.2L747.5 24.5L759.5 21.8L771.5 19.0L783.5 16.1L795.5 13.1L807.5 10.0L819.5 6.8L831.5 3.6L843.5 0.2L855.5 -3.2L867.5 -6.8L879.5 -10.4L891.5 -14.1"/>
<path d="M207.5 153.6L219.5 154.3L231.5 155.0L243.5 155.7L255.5 156.2L267.5 156.7L279.5 157.1L291.5 157.4L303.5 157.7L315.5 157.9L327.5 158.0L339.5 158.0L351.5 158.0L363.5 157.9L375.5 157.7L387.5 157.5L399.5 157.2L411.5 156.8L423.5 156.3L435.5 155.8L447.5 155.2L459.5 154.5L471.5 153.8L483.5 152.9L495.5 152.0L507.5 151.1L519.5 150.0L531.5 148.9L543.5 147.7L555.5 146.5L567.5 145.1L579.5 143.7L591.5 142.3L603.5 140.7L615.5 139.1L627.5 137.4L639.5 135.6L651.5 133.7L663.5 131.8L675.5 129.8L687.5 127.7L699.5 125.6L711.5 123.3L723.5 121.0L735.5 118.6L747.5 116.2L759.5 113.6L771.5 111.0L783.5 108.3L795.5 105.5L807.5 102.6L819.5 99.7L831.5 96.6L843.5 93.5L855.5 90.3L867.5 87.0L879.5 83.7L891.5 80.2"/>
<path d="M207.5 242.5L219.5 243.2L231.5 243.9L243.5 244.5L255.5 245.0L267.5 245.4L279.5 245.8L291.5 246.1L303.5 246.4L315.5 246.5L327.5 246.7L339.5 246.7L351.5 246.7L363.5 246.6L375.5 246.4L387.5 246.2L399.5 245.9L411.5 245.5L423.5 245.1L435.5 244.6L447.5 244.0L459.5 243.4L471.5 242.7L483.5 241.9L495.5 241.1L507.5 240.2L519.5 239.2L531.5 238.2L543.5 237.0L555.5 235.9L567.5 234.6L579.5 233.3L591.5 231.9L603.5 230.4L615.5 228.9L627.5 227.3L639.5 225.7L651.5 223.9L663.5 222.1L675.5 220.2L687.5 218.3L699.5 216.3L711.5 214.2L723.5 212.0L735.5 209.8L747.5 207.4L759.5 205.1L771.5 202.6L783.5 200.1L795.5 197.5L807.5 194.8L819.5 192.0L831.5 189.2L843.5 186.3L855.5 183.3L867.5 180.2L879.5 177.1L891.5 173.9"/>
<path d="M207.5 331.5L219.5 332.2L231.5 332.8L243.5 333.3L255.5 333.8L267.5 334.2L279.5 334.6L291.5 334.9L303.5 335.1L315.5 335.3L327.5 335.4L339.5 335.4L351.5 335.4L363.5 335.3L375.5 335.1L387.5 334.9L399.5 334.6L411.5 334.3L423.5 333.9L435.5 333.4L447.5 332.9L459.5 332.3L471.5 331.6L483.5 330.9L495.5 330.1L507.5 329.3L519.5 328.3L531.5 327.4L543.5 326.3L555.5 325.2L567.5 324.0L579.5 322.8L591.5 321.5L603.5 320.1L615.5 318.7L627.5 317.2L639.5 315.6L651.5 313.9L663.5 312.2L675.5 310.5L687.5 308.6L699.5 306.7L711.5 304.8L723.5 302.7L735.5 300.6L747.5 298.4L759.5 296.2L771.5 293.9L783.5 291.5L795.5 289.1L807.5 286.6L819.5 284.0L831.5 281.3L843.5 278.6L855.5 275.8L867.5 272.9L879.5 270.0L891.5 266.9"/>
<path d="M207.5 420.4L219.5 421.1L231.5 421.6L243.5 422.2L255.5 422.6L267.5 423.0L279.5 423.4L291.5 423.6L303.5 423.9L315.5 424.0L327.5 424.1L339.5 424.1L351.5 424.1L363.5 424.0L375.5 423.9L387.5 423.7L399.5 423.4L411.5 423.1L423.5 422.7L435.5 422.3L447.5 421.8L459.5 421.2L471.5 420.6L483.5 419.9L495.5 419.1L507.5 418.3L519.5 417.5L531.5 416.5L543.5 415.5L555.5 414.5L567.5 413.4L579.5 412.2L591.5 411.0L603.5 409.7L615.5 408.3L627.5 406.9L639.5 405.4L651.5 403.9L663.5 402.2L675.5 400.6L687.5 398.8L699.5 397.0L711.5 395.2L723.5 393.3L735.5 391.3L747.5 389.2L759.5 387.1L771.5 384.9L783.5 382.7L795.5 380.4L807.5 378.0L819.5 375.6L831.5 373.1L843.5 370.5L855.5 367.8L867.5 365.1L879.5 362.4L891.5 359.5"/>
<path d="M207.5 509.4L219.5 510.0L231.5 510.5L243.5 511.0L255.5 511.5L267.5 511.8L279.5 512.2L291.5 512.4L303.5 512.6L315.5 512.8L327.5 512.9L339.5 512.9L351.5 512.9L363.5 512.8L375.5 512.7L387.5 512.5L399.5 512.2L411.5 511.9L423.5 511.5L435.5 511.1L447.5 510.6L459.5 510.1L471.5 509.5L483.5 508.9L495.5 508.2L507.5 507.4L519.5 506.6L531.5 505.7L543.5 504.7L555.5 503.7L567.5 502.7L579.5 501.6L591.5 500.4L603.5 499.2L615.5 497.9L627.5 496.5L639.5 495.1L651.5 493.7L663.5 492.1L675.5 490.6L687.5 488.9L699.5 487.2L711.5 485.5L723.5 483.6L735.5 481.8L747.5 479.8L759.5 477.8L771.5 475.7L783.5 473.6L795.5 471.4L807.5 469.2L819.5 466.9L831.5 464.5L843.5 462.1L855.5 459.6L867.5 457.0L879.5 454.4L891.5 451.7"/>
<path d="M207.5 598.3L219.5 598.9L231.5 599.4L243.5 599.9L255.5 600.3L267.5 600.7L279.5 601.0L291.5 601.2L303.5 601.4L315.5 601.6L327.5 601.6L339.5 601.7L351.5 601.7L363.5 601.6L375.5 601.5L387.5 601.3L399.5 601.0L411.5 600.7L423.5 600.4L435.5 600.0L447.5 599.5L459.5 599.0L471.5 598.5L483.5 597.8L495.5 597.2L507.5 596.4L519.5 595.6L531.5 594.8L543.5 593.9L555.5 593.0L567.5 592.0L579.5 590.9L591.5 589.8L603.5 588.6L615.5 587.4L627.5 586.1L639.5 584.8L651.5 583.4L663.5 581.9L675.5 580.4L687.5 578.9L699.5 577.3L711.5 575.6L723.5 573.9L735.5 572.1L747.5 570.2L759.5 568.3L771.5 566.4L783.5 564.4L795.5 562.3L807.5 560.2L819.5 558.0L831.5 555.7L843.5 553.4L855.5 551.0L867.5 548.6L879.5 546.1L891.5 543.6"/>
<path d="M207.5 687.3L219.5 687.8L231.5 688.3L243.5 688.8L255.5 689.2L267.5 689.5L279.5 689.8L291.5 690.0L303.5 690.2L315.5 690.4L327.5 690.4L339.5 690.5L351.5 690.4L363.5 690.4L375.5 690.3L387.5 690.1L399.5 689.9L411.5 689.6L423.5 689.2L435.5 688.9L447.5 688.4L459.5 687.9L471.5 687.4L483.5 686.8L495.5 686.2L507.5 685.5L519.5 684.7L531.5 683.9L543.5 683.1L555.5 682.2L567.5 681.2L579.5 680.2L591.5 679.1L603.5 678.0L615.5 676.9L627.5 675.6L639.5 674.4L651.5 673.0L663.5 671.7L675.5 670.2L687.5 668.7L699.5 667.2L711.5 665.6L723.5 664.0L735.5 662.3L747.5 660.5L759.5 658.7L771.5 656.8L783.5 654.9L795.5 652.9L807.5 650.9L819.5 648.8L831.5 646.7L843.5 644.5L855.5 642.3L867.5 639.9L879.5 637.6L891.5 635.2"/>
</g>
<g fill="none" stroke="#000" stroke-width="1" stroke-linejoin="round">
<path d="M216.5 109.3L220.7 110.7L228 119.1L242.6 121.2L248.9 124.3L259.4 130.6L267.7 132.7L285.5 132.7L285.5 137.9L292.8 137.9L297 140.4L302.2 135.8L311.6 131.6L326.3 125.4L338.8 120.1L349.3 118.7L356.6 114.5L358.7 116L370.2 115.3L378.5 114.5L390 116L395.3 114.5L405.7 113.9L411 109.7L420.4 107.6L427.7 103.4L431.9 98.2L435 93"/>
<path d="M214.4 212.1L220.7 209L231.1 206.5L244.7 213.2L251 206.9L265.6 202.3L271.9 203.8L274 213.2L276.1 215.3L275 223"/>
<path d="M321 222.6L324.2 215.3L330.5 210L338.8 205.9L340.9 206.9L340.9 213.2L344 215.3L343 223"/>
<path d="M406.8 221.5L414.1 213.2L420.4 208L424.5 205.9L423.5 202.7L426.6 203.8L429.8 204.8L435 203.8"/>
<path d="M447.5 53.2L450.7 58.5L455.9 63.7L462.2 68.9L461.1 74.8L454.9 79.4L447.5 83.5L441.3 86.7L435 93"/>
<path d="M435 206.9L439.2 204.8L445.5 198.5L448.6 197.5L449.6 202.7L451.7 204.8L455.9 197.5L455.9 195.4L468.5 195.4L471.6 186L475.8 176.6L480 174.5L490.4 173.5L493.5 170.3L497.7 171.4L505 168.2L513.4 163L518.6 162L518.6 157.8L515.5 151.5L512.4 148.4L514.5 145.2L512.4 140L514.5 135.8L520.7 132.7L519.7 126.4L522.8 120.1L527 117L532.2 114.9L534.3 120.1L535.4 129.5L539.5 130.6L545.8 128.5L553.1 123.3L558.4 120.1L562.5 122.2L568.8 117L573 114.9L579.3 116L580.3 108.6L581.4 102.4L585.5 100.3L591.8 99.2L595 95L601.2 93.6L604.4 98.2L608.5 102.4L609.6 107.6L613.8 109.7L615.9 116L613.8 120.1L616.9 125.4L620 129.5L631.5 127.5L641 127.5L643 121.2L641 112.8L638.9 105.5L635.7 100.3L642 95L646.2 98.2L650.4 99.2L653.5 105.5L656.6 110.7L659.8 106.5L665 102.4"/>
<path d="M641 127.5L637.8 133.7L633.6 137.9L633.6 144.2L641 147.3L648.3 149.4L652.5 154.6L656.6 160.9L659.8 163L665 160.9"/>
<path d="M518.6 157.8L522.8 165.1L530.1 168.2L529.1 172.4L522.8 175.5L517.6 178.7L522.8 181.8L529.1 183.9L530.1 190.2L533.3 195.4L532.2 202.7L527 206.9L520.7 210L515.5 215.3L512.4 223"/>
<path d="M579.3 143.1L585.5 148.4L590.8 152.5L601.2 151.5L598.1 155.7L595 158.8L597 164L602.3 167.2L605.4 166.1L608.5 169.3L605.4 173.5L606.5 179.7L602.3 181.8L596 183.9L590.8 186L585.5 183.9L579.3 187L568.8 187L560.5 190.2L556.3 187L555.2 181.8L553.1 177.6L556.3 173.5L561.5 171.4L565.7 166.1L560.5 162L562.5 157.8L568.8 153.6L572 150.5L574 146.3L579.3 143.1"/>
<path d="M605.4 166.1L612.7 171.4L615.9 177.6L616.9 186L621.1 191.2L614.8 196.5L611.7 203.8L612.7 213.2L616.9 219.5L619 223"/>
<path d="M590.8 186L589.7 192.3L591.8 198.5L590.8 204.8L593.9 210L600.2 212.1L608.5 211.1L611.7 206.9"/>
<path d="M621.1 191.2L629.5 192.3L635.7 190.2L642 186L648.3 181.8L650.4 175.5L653.5 171.4L658.7 167.2L665 164"/>
<path d="M665 98.2L673.4 93L677.5 88.8L685.9 83.5L693.2 81.5L696.4 76.2L703.7 74.1L706.8 70L715.2 68.9L721.5 66.8L723.5 61.6L729.8 59.5L731.9 51.1"/>
<path d="M744.5 50.5L747.6 56.4L750.7 59.5L754.9 55.3L758 51.1L761.2 60.5L767.5 66.8L769.5 73.1L777.9 77.3L775.8 84.6L779 89.8L785.2 96.1L790.5 102.4L791.5 108.6L788.4 111.8"/>
<path d="M788.4 111.8L794.6 108.6L798.8 104.5L803 96.1L805.1 87.7L809.3 81.5L814.5 79.4L819.7 84.6L830.2 85.6L842.7 83.5L844.8 77.3L838.5 71L836.5 66.8L846.9 62.6L855.3 59.5L859.5 51.1"/>
<path d="M878.3 51.1L876.2 60.5L873 68.9L876.2 79.4L880.4 89.8L872 100.3L863.6 110.7L853.2 123.3L844.8 129.5L836.5 132.7L842.7 137.9L840.6 149.4L849 152.5L859.5 157.8L868.9 165.1L876.2 171.4L884.5 177.6"/>
<path d="M788.4 111.8L782.1 119.1L775.8 127.5L769.5 135.8L765.4 146.3L766.4 150.5L757 150.5L748.6 152.5L740.3 156.7L734 162L725.6 169.3L719.4 175.5L717.3 179.7L710 183.9L702.6 188.1L697.4 190.2L698.5 194.4L706.8 191.2L713.1 186L716.2 181.8L720.4 178.7"/>
<path d="M766.4 150.5L782.1 151.5L795.7 154.6L794.6 165.1L792.5 181.8L789.4 197.5L798.8 203.8L807.2 206.9L815.5 202.7L823.9 199.6L830.2 202.7L838.5 211.1L844.8 217.4L838.5 223"/>
<path d="M665 133.7L671.3 129.5L679.6 125.4L681.7 131.6L684.9 133.7L692.2 128.5L700.5 127.5L701.6 125.4L706.8 130.6L712 135.8L716.2 140L712 148.4L707.9 154.6L700.5 163L703.7 171.4L698.5 174.5L708.9 173.5L714.1 172.4L707.9 178.7L707.9 181.8"/>
<path d="M665 137.9L673.4 135.8L680.7 140L677.5 148.4L673.4 156.7L665 160.9"/>
<path d="M267.7 223L264.6 229.3L256.2 232.4L255.2 238.7L252 243.9L254.1 250.2L261.5 254.4L267.7 256.5L274 262.7L280.3 261.7L288.6 260.6L299.1 257.5L309.5 254.4L314.8 252.3L315.8 243.9L314.8 237.6L313.7 231.4L317.9 223"/>
<path d="M280.3 261.7L285.5 265.9L288.6 271.1L294.9 277.4L299.1 282.6L301.2 287.8L305.4 293L305.4 300.4L301.2 306.6L303.3 310.8L309.5 315L315.8 320.2L319 321.3L324.2 318.1L330.5 315L338.8 312.9L343 310.8L342 305.6L338.8 300.4L334.6 295.1L330.5 288.9L332.5 283.6L335.7 278.4L334.6 273.2L340.9 272.1L351.4 272.8L352.4 264.8L354.5 257.5L359.7 253.3L370.2 252.3L372.3 256.5L382.7 256L390 254.4L393.2 249.1L399.5 245L397.4 240.8L396.3 234.5L400.5 229.3L406.8 223"/>
<path d="M332.5 234.5L340.9 241.8L349.3 242.9L355.5 248.1L359.7 253.3"/>
<path d="M213.4 251.2L218.6 257.5L223.8 262.7L230.1 268L229 275.3L234.3 280.5L233.2 285.7L239.5 294.1L236.4 300.4L238.5 306.6L233.2 310.8L228 317.1L220.7 322.3L222.8 327.5L213.4 330.7L208.1 334.9"/>
<path d="M351.4 272.8L353.5 278.4L363.9 281.5L372.3 286.8L382.7 291L390 296.2L389 304.5L384.8 310.8L389 319.2L386.9 325.5L372.3 327.5L363.9 328.6L366 333.8L355.5 337L347.2 333.8L338.8 332.8L331.5 334.9L332.5 342.2L327.3 347.4L332.5 350.5L336.7 356.8L332.5 363.1L330.5 371.5L332.5 376.7L324.2 377.7L317.9 376.7L311.6 384L315.8 388.2L313.7 396.5"/>
<path d="M208.1 334.9L214.4 348.5L209.2 353.7L215.5 361L214.4 365.2L225.9 355.8L235.3 353.7L240.5 356.8L241.6 365.2L251 372.5L263.5 373.5L267.7 379.8L271.9 388.2L274 398"/>
<path d="M214.4 365.2L217.5 373.5L221.7 377.7L209.2 386.1"/>
<path d="M319 321.3L325.2 325.5L331.5 327.5L332.5 321.3"/>
<path d="M414.1 388.2L420.4 386.1L428.7 388.2L435 390.3"/>
<path d="M512.4 223L513.4 231.4L519.7 234.5L522.8 241.8L527 250.2L523.9 258.5L520.7 264.8L521.8 273.2L515.5 278.4L520.7 283.6L521.8 294.1L520.7 302.5L516.5 310.8L506.1 319.2L495.6 323.4L480 323.4L480 328.6L468.5 332.8L455.9 337L443.4 342.2L435 346.4"/>
<path d="M521.8 287.8L533.3 289.9L547.9 292L556.3 294.1L560.5 289.9L566.7 289.9L565.7 284.7L561.5 280.5L562.5 274.2L570.9 266.9L577.2 254.4L585.5 246L598.1 235.5L612.7 229.3L619 223"/>
<path d="M566.7 289.9L565.7 300.4L574 296.2L583.5 289.9L581.4 294.1L570.9 302.5L560.5 312.9L554.2 322.3L558.4 326.5L568.8 331.7L575.1 337L589.7 337L596 331.7L596 326.5L602.3 323.4L610.6 325.5L621.1 333.8L627.4 329.6L635.7 325.5L644.1 327.5L650.4 331.7L660.8 323.4L665 317.1"/>
<path d="M589.7 337L600.2 344.3L606.5 348.5L600.2 356.8L593.9 358.9L587.6 351.6L579.3 351.6L578.2 365.2L574 367.3L573 377.7L564.6 380.9L563.6 388.2L568.8 398"/>
<path d="M596 331.7L606.5 337L614.8 341.1L623.2 346.4L631.5 346.4L635.7 350.5L647.2 352.6L646.2 365.2L644.1 369.4L652.5 373.5L654.5 379.8L665 381.9"/>
<path d="M435 289.9L439.2 306.6L441.3 315L439.2 323.4L435 325.5"/>
<path d="M435 346.4L439.2 352.6L443.4 361L449.6 369.4L455.9 377.7L454.9 388.2L462.2 392.4L466.4 398"/>
<path d="M619 223L623.2 227.2L631.5 226.1L642 225.1L648.3 223"/>
<path d="M650.4 235.5L648.3 243.9L656.6 248.1L665 250.2"/>
<path d="M665 250.2L671.3 248.1L675.5 241.8L673.4 237.6L681.7 231.4L685.9 226.1L694.3 223L702.6 225.1L710 228.2L715.2 230.3L725.6 228.2L729.8 225.5L738.2 227.2L744.5 226.1L742.4 232.4L743.4 238.7L740.3 242.9L736.1 243.9L731.9 240.8L727.7 242.9L721.5 248.1L715.2 252.3L706.8 256.5L702.6 259.6L704.7 263.8L700.5 266.9L699.5 272.1L692.2 272.1L685.9 274.2L691.1 278.4L685.9 283.6L681.7 289.9L677.5 294.1L676.5 300.4L671.3 305.6L667.1 310.8L670.2 317.1L677.5 320.2L685.9 323.4L699.5 327.5L702.6 334.9L707.9 341.1L712 349.5L717.3 356.8L722.5 363.1L725.6 373.5L731.9 377.7L739.2 378.8L741.3 385L748.6 387.1L754.9 391.3L757 396.5L748.6 394.9L740.3 394.9L735 396.5"/>
<path d="M831.2 223L838.5 231.4L846.9 242.9L853.2 253.3L849 261.7L846.5 268L848 277.4L853.2 285.7L860.5 295.1L871 283.6L878.3 277.4L885.6 273.2"/>
<path d="M269.8 398L276.1 401.1L284.5 405.3L292.8 406.4L299.1 403.2L302.2 400.1L300.1 398"/>
<path d="M300.1 398L307.5 399.7L314.8 399"/>
<path d="M314.8 399L322.1 401.1L328.4 405.3L338.8 403.2L347.2 406.4L349.3 410.5L355.5 409.5L363.9 413.7L370.2 418.9L378.5 417.9L385.9 416.8L388 418.9L382.7 423.1L382.7 427.3L389 429.4L388 434.6L382.7 437.7L378.5 444L374.4 448.2L372.3 455.5L366 458.6L360.8 459.7L361.8 463.9L356.6 468L353.5 474.3L349.3 480.6L338.8 482.7L334.6 476.4L325.2 478.5L317.9 473.3L311.6 471.2L304.3 476.4L305.4 481.6L309.5 483.7L305.4 490L299.1 492.1L297 496.3L301.2 502.5L307.5 503.6L308.5 512L315.8 517.2L322.1 521.4L326.3 526.6L330.5 521.4L334.6 523.5L338.8 528.7L345.1 521.4L351.4 517.2L357.6 515.1L358.7 508.8L363.9 506.7L370.2 513L378.5 512L382.7 510.9L385.9 519.3L392.1 523.5L393.2 529.7L399.5 536L405.7 537L411 529.7L412 521.4L411 508.8L408.9 502.5L403.6 498.4L400.5 494.2L395.3 491L389 490L386.9 486.9L389 479.5L386.9 470.1L393.2 467L401.5 464.9L407.8 463.9L411 466L418.3 461.8L426.6 457.6L435 456.5"/>
<path d="M385.9 416.8L393.2 421L403.6 425.2L412 429.4L420.4 432.5L426.6 438.8L435 443"/>
<path d="M435 404.3L426.6 404.3L418.3 407.4L415.1 414.7L418.3 423.1L420.4 432.5"/>
<path d="M315.8 517.2L311.6 523.5L305.4 526.6L307.5 533.9L315.8 538.1L324.2 540.2L325.2 548.5L309.5 550.6L297 549.6L293.9 544.4L288.6 540.2L282.4 543.3L276.1 545.4L269.8 543.3L266.7 540.2L269.8 535L267.7 528.7L267.7 523.5L255.2 522.4L252 527.6L251 533.9L242.6 536L241.6 542.3L236.4 550.6L228 556.9L222.8 563.2L223.8 575"/>
<path d="M297 549.6L292.8 559L284.5 561.1L276.1 560L267.7 556.9L261.5 563.2L255.2 559L244.7 566.9L248.9 575"/>
<path d="M412 521.4L414.1 531.8L414.1 544.4L419.3 552.7L414.1 559L405.7 563.2L401.5 569.5L399.5 575"/>
<path d="M405.7 568.4L414.1 565.3L420.4 567.4L424.5 575"/>
<path d="M435 487.9L426.6 491L418.3 494.2L412 502.5L411 508.8"/>
<path d="M466.4 398L476.8 404.3L485.2 408.5L497.7 408.5L508.2 406.4L518.6 408.5L527 407.4L532.2 404.3L534.3 412.6L537.5 420L543.7 423.1L552.1 424.1L558.4 428.3L568.8 427.3L577.2 429.4L583.5 424.1L591.8 418.9L593.9 410.5L591.8 402.2L589.7 398"/>
<path d="M577.2 429.4L585.5 435.6L598.1 439.8L600.2 443L595 448.2L597 456.5L602.3 462.8L606.5 471.2L608.5 475.4L614.8 472.2L621.1 467L625.3 466L628.4 469.1L623.2 476.4L627.4 479.5L633.6 473.3L639.9 469.1L646.2 471.2L654.5 476.4L661.9 477.5L665 476.4"/>
<path d="M435 489L443.4 487.9L449.6 490L448.6 483.7L455.9 478.5L466.4 479.5L476.8 482.7L487.3 482.7L492.5 489L499.8 492.1L507.1 489L512.4 485.8L516.5 483.7L516.5 490L522.8 487.9L529.1 483.7L534.3 480.6L538.5 485.8L539.5 492.1L538.5 497.3L543.7 501.5L549 504.6"/>
<path d="M549 504.6L547.9 500.5L554.2 495.2L564.6 492.1L573 489L579.3 483.7L585.5 479.5L593.9 476.4L608.5 475.4"/>
<path d="M549 504.6L554.2 510.9L554.2 519.3L558.4 523.5L554.2 528.7L547.9 533.9L543.7 540.2L541.6 548.5L543.7 554.8L550 559L551 575"/>
<path d="M665 523.5L656.6 525.5L650.4 527.6L648.3 533.9L642 536L644.1 542.3L648.3 546.5L642 552.7L633.6 556.9L631.5 565.3L635.7 575"/>
<path d="M661.9 477.5L665 490"/>
<path d="M665 408.5L671.3 410.5L675.5 418.9L683.8 423.1L696.4 422L706.8 422L715.2 426.2L725.6 429.4L731.9 425.2L738.2 421L736.1 416.8L740.3 412.6"/>
<path d="M746.5 401.1L757 403.2L758 407.4L761.2 412.6L763.3 418.9L757 423.1L748.6 427.3L742.4 432.5L738.2 436.7L734 439.8L727.7 440.9L731.9 447.1L738.2 448.2L744.5 443L752.8 445L761.2 448.2L767.5 449.2"/>
<path d="M736.1 404.3L748.6 400.1L759.1 402.2L757 404.3L747.6 405.3"/>
<path d="M727.7 440.9L719.4 443L706.8 443L697.4 446.1L692.2 449.2L683.8 449.2L681.7 456.5L683.8 462.8L679.6 469.1L673.4 475.4L665 480.6"/>
<path d="M696.4 422L698.5 431.5L692.2 439.8L697.4 446.1"/>
<path d="M665 492.1L673.4 493.1L677.5 502.5L679.6 512L688 512L690.1 519.3L694.3 525.5L696.4 533.9L706.8 531.8L714.1 525.5L719.4 531.8L721.5 538.1L715.2 542.3L719.4 548.5L725.6 552.7L727.7 563.2L725.6 575"/>
<path d="M767.5 449.2L777.9 446.1L782.1 448.2L775.8 453.4L769.5 458.6L763.3 462.8L759.1 464.9L765.4 469.1L773.7 470.1L769.5 476.4L765.4 480.6L773.7 483.7L769.5 490L767.5 496.3L761.2 500.5L757 506.7L752.8 510.9L748.6 519.3L746.5 527.6L742.4 536L736.1 542.3L734 548.5L736.1 554.8L729.8 561.1L727.7 567.4"/>
<path d="M665 523.5L673.4 521.4L679.6 512"/>
<path d="M767.5 436.7L773.7 435.6L780 437.7L775.8 440.9L782.1 443L779 448.2L773.7 447.1L769.5 450.3L766.4 446.1L771.6 443L768.5 439.8"/>
<path d="M761.2 470.1L767.5 467L773.7 471.2L769.5 474.3L775.8 476.4L770.6 479.5L763.3 477.5L765.4 473.3"/>
<path d="M757 512L760.1 514L758 516.1"/>
<path d="M768.5 448.8L767 448.8L766.8 449.6L768.5 447.3"/>
<path d="M766.8 448.6L767.5 450.3L768.7 448.8L770.4 449.4L768.1 448.4L766.4 449.2L766.4 451.3"/>
<path d="M777.1 450.9L777.3 451.3L780 451.3L779 451.3"/>
<path d="M778.3 450.5L777.9 451.3L780.4 449L781 450.3"/>
<path d="M771 447.1L771 449.6L769.3 448.4L772.1 448.4L774.6 447.8L776.7 447.6L778.1 446.9"/>
<path d="M776.9 441.1L774.4 442.1L772.1 440L774.1 439.4L775.4 439.2L774.4 441.3"/>
<path d="M776 444.6L774.1 443L771.2 441.1L773.7 441.5L773.1 440.4"/>
<path d="M776 479.5L773.7 478.7L771.6 480.6L773.7 479.1"/>
<path d="M762 460.5L764.9 461.1L766.8 463.4L766.8 462.6L769.3 462.6"/>
<path d="M775 477.9L774.8 476.8L774.1 479.1L774.1 479.5L772.7 476.6L771.6 474.5"/>
<path d="M767.7 480.6L770.6 480.2L770 480.4L772.5 479.5L772.9 478.7"/>
<path d="M774.1 469.1L775.4 468.7L775.6 468.7L776.9 468.7L776.9 467.8L776.9 470.1L776.7 470.6"/>
<path d="M775.4 474.7L776.2 477.5L776.9 479.3L776.9 480L776.9 480L775.6 480.6L776.9 480.6"/>
<path d="M757.6 506.5L759.9 506.3L760.6 506.9L762.9 506.7L763.3 505.1L764.5 505.3"/>
<path d="M762.4 503.8L761 501.7L763.5 501.1L760.6 502.8L758.7 505.3"/>
<path d="M754.5 510.9L754.3 512.2L756.6 513.4L759.1 512.8L760.8 512.6L763.3 514.7"/>
<path d="M735.9 533.1L735.9 531.8L733 532L733 535L733 535.2L733 536.8L734.8 535.4"/>
<path d="M744.9 532.2L745.5 531.8L744.5 532.7L745.5 534.5L745.5 532.2L745.5 533.3"/>
<path d="M739.2 534.1L738 536.6L739.9 539.1L741.9 536.4L740.7 537.5L739.6 539.1L737.8 538.7"/>
<path d="M736.5 537.5L735.5 539.3L733 536.6L733.8 535.4L734 535.2"/>
<path d="M732.7 560.7L734.8 562.3L733.4 559.6L731.3 559"/>
<path d="M735.7 554.2L736.1 551.5L734.4 550.2L736.9 551.7"/>
<path d="M727.5 561.7L728.1 561.3L726.1 564L725.6 565.3L728.4 563.4"/>
<path d="M727.5 553.1L727.7 554.2L726.1 556.7L727.1 559.4L729.4 558.2"/>
<path d="M731.1 556.7L731.1 555L732.7 556.7L732.7 556.7L731.3 554L730.4 554.4"/>
<path d="M729.2 561.7L731.7 562.8L731.3 565.7L733 565.1L732.5 567.8"/>
<path d="M739 556.9L736.3 558.2L733.8 560L731.1 558.2L732.3 557.5L730.2 558.4"/>
<path d="M737.6 563L739.2 561.1L741.9 563.6L743.4 565.1"/>
<path d="M739.9 558.6L740.3 558.8L739.6 558L737.6 558.2"/>
<path d="M733.8 569.5L732.7 569.2L731.5 571.1L729.4 571.5L732.1 568.6L729.6 569.2L729.8 569.7"/>
<path d="M734.4 570.5L732.5 568.6L731.7 571.1L730.7 571.5"/>
<path d="M734.2 528.5L736.7 526.6L736.3 524.5L733.6 524.7"/>
<path d="M781 442.1L781.7 441.7L782.1 443.2L782.1 444.8"/>
<path d="M759.1 448L758 448.6L760.6 449.6L762.9 450.9"/>
<path d="M758.3 476.2L757.2 474.3L759.1 474.9L761.8 476.4L764.3 476.8L765.6 477.5"/>
<path d="M763.5 479.5L765.8 481.6L768.5 481.6L767.2 480.4L768.3 480L767.5 481.6"/>
<path d="M767.5 447.1L767.7 446.7L768.5 449L767.5 448.4L767.9 447.1L768.5 447.3"/>
<path d="M767.9 466.6L765.4 469.5L764.5 469.1L764.1 471.6L766.6 471.6L766.2 469.3L768.5 467.4"/>
<path d="M770.8 451.7L773.1 452.4L772.7 449.9L770.6 451.5L772.1 452.4L769.8 450.7"/>
<path d="M760.1 442.3L757.4 440.2L758.7 438.1L757.4 439.2L759.5 439L757 440.2L759.7 437.9"/>
<path d="M784.8 426.2L786.1 424.1L784.4 424.6L786.5 425.6L785.6 423.5L785.6 422.3L787.1 423.9"/>
<path d="M779.4 421.6L780 422L778.3 421.8L780.2 421.2L780 421L780.8 422"/>
<path d="M207.1 588.6L213.4 591.7L219.6 589.6L224.9 588.6L225.9 583.4L223.8 575"/>
<path d="M246.8 575L247.9 581.3L253.1 584.4L260.4 581.3L268.8 582.3L274 584.4L276.1 591.7L271.9 598L267.7 604.3L263.5 612.6L269.8 616.8L274 623.1L278.2 625.2L274 630.4L267.7 637.7L267.7 641.9L276.1 641.9L284.5 636.7L288.6 632.5L297 633.5L303.3 637.7L309.5 638.8L315.8 641.9L320 634.6L330.5 629.4L338.8 626.2L344 625.2L347.2 615.8L352.4 613.7L355.5 618.9L360.8 623.1L366 624.1L372.3 627.3L378.5 625.2L381.7 618.9L388 616.8L395.3 620L399.5 612.6L405.7 613.7L408.9 608.5L415.1 606.4L420.4 600.1L420.4 593.8L418.3 587.5L416.2 581.3L420.4 575"/>
<path d="M420.4 600.1L426.6 600.1L429.8 603.2L432.9 599L435 594.9"/>
<path d="M267.7 641.9L270.9 648.2L275 650.3L282.4 647.1L288.6 649.2L290.7 656.5L297 658.6L303.3 657.6L309.5 658.6L315.8 657.6L320 664.9L317.9 673.3L313.7 677.5L312.7 687.9L319 691L328.4 693.1L338.8 696.3L338.8 702.5L332.5 708.8L336.7 719.3L344 721.4L351.4 728.7L359.7 730.8L367 732.9L378.5 735"/>
<path d="M208.1 698.4L218.6 703.6L225.9 696.3L231.1 695.2L236.4 701.5L241.6 696.3L248.9 704.6L254.1 697.3L262.5 699.4L269.8 695.2L277.1 691L277.1 686.9L286.5 682.7L292.8 678.5L298 683.7L305.4 678.5L313.7 677.5"/>
<path d="M351.4 749.6L378.5 735L386.9 730.8L393.2 725.5L397.4 722.4L405.7 728.7L412 729.7L414.1 736L424.5 732.9L429.8 725.5L435 729.7"/>
<path d="M386.9 730.8L391.1 727.6L389 731.8L395.3 728.7L393.2 732.9L400.5 726.6L402.6 730.8L406.8 726.6L407.8 730.8"/>
<path d="M435 594.9L443.4 600.1L447.5 595.9L454.9 589.6L464.3 589.6L468.5 587.5L474.7 592.8L476.8 601.1L481 603.2L478.9 612.6L472.6 618.9L468.5 625.2L468.5 630.4L476.8 627.3L481 626.2L484.1 635.6L491.5 635.6L499.8 634.6L506.1 623.1L512.4 620L518.6 623.1L524.9 627.3L530.1 626.2L529.1 620L526 615.8L531.2 612.6L537.5 609.5L545.8 613.7L555.2 612.6L558.4 607.4L557.3 598L560.5 589.6L558.4 581.3L554.2 575"/>
<path d="M558.4 607.4L560.5 613.7L568.8 613.7L577.2 609.5L582.4 613.7L579.3 620L574 625.2L570.9 631.5L567.8 632.5L575.1 636.7L583.5 633.5L593.9 629.4L602.3 625.2L609.6 627.3L614.8 631.5L618 620L616.9 612.6L621.1 602.2L623.2 593.8L627.4 585.5L632.6 581.3L630.5 575"/>
<path d="M618 620L631.5 620L637.8 625.2L646.2 625.2L652.5 631.5L654.5 639.8L658.7 648.2L661.9 653.4L665 652.4"/>
<path d="M499.8 634.6L501.9 646.1L497.7 652.4L496.7 658.6L491.5 662.8L487.3 669.1L484.1 677.5L485.2 686.9L480 693.1L474.7 696.3L466.4 700.5L464.3 708.8L455.9 712L452.8 719.3L443.4 722.4L439.2 729.7L435 731.8"/>
<path d="M451.7 746.5L460.1 742.3L466.4 736L476.8 731.8L487.3 730.8L497.7 725.5L506.1 721.4L514.5 719.3L518.6 714L522.8 719.3L529.1 721.4L533.3 717.2L539.5 713L541.6 708.8L547.9 710.9L554.2 706.7L557.3 700.5L554.2 692.1L560.5 691L566.7 696.3L564.6 700.5L563.6 707.8L585.5 706.3L584.5 698.4L579.3 694.2L585.5 689L591.8 685.8L598.1 687.9L606.5 683.7L614.8 684.8L623.2 681.6L633.6 677.5L644.1 675.4L646.2 669.1L652.5 664.9L654.5 658.6L661.9 653.4"/>
<path d="M435 729.7L441.3 736L437.1 740.2"/>
<path d="M453.8 733.9L458 740.2L447.5 744.4L455.9 748.5L460.1 745.4"/>
<path d="M495.6 723.5L501.9 726.6L497.7 728.7L506.1 724.5"/>
<path d="M522.8 721.4L529.1 725.5L533.3 722.4L527 724.5"/>
<path d="M502.1 724.5L501.1 725.8L502.3 726.4L500.9 726.6"/>
<path d="M499.4 723.2L497.5 724.7L497.9 724.3L497.1 724.9L496.9 725.8L497.5 724.1"/>
<path d="M504.4 728.5L504.8 726.6L503 725.1L504.6 724.3L504.2 726L503.4 726.2L503.2 724.3"/>
<path d="M526.6 720.5L526.4 722L525.1 723.5L525.1 723.9L523.9 723.7L522.2 723.9L523.9 724.3"/>
<path d="M529.3 718.4L529.9 718.9L528.5 716.8L528.5 715.1L527.2 713.8L525.3 713.8L525.1 715.3"/>
<path d="M527.8 721.8L525.7 719.9L526.4 719.5L526.6 721.4L524.9 720.3L526 720.3L524.1 720.7"/>
<path d="M520.5 714.5L520.1 716.3L521.6 714.3L520.3 715.9L520.1 718L519.7 716.1"/>
<path d="M556.9 711.1L555.4 709.2L555 708.2L556.3 709L556.7 709.2L557.3 707.8"/>
<path d="M556.5 706.9L554.8 708.4L552.9 709.2L552.3 708.8L553.8 706.7"/>
<path d="M581.8 695L582.4 695.6L583.9 696.3L582.6 694.6L584.1 695.4"/>
<path d="M579.5 690.8L581.6 692.3L579.9 693.6L581.6 692.5"/>
<path d="M449 745L448.2 743.9L449.2 744.6L448.4 745.4L448 746.5"/>
<path d="M449.2 737.5L448.6 736.4L450.1 737L448.6 737.3L449.2 735.8L449.8 734.1"/>
<path d="M452.6 735.2L454 734.7L454.2 736.6L455.9 734.7L456.5 736.4"/>
<path d="M456.1 743.9L454.7 742.3L456.3 742.3L455.1 742.1L453.8 743.3L453.8 741.6"/>
<path d="M786.3 587.5L797.8 590.1L798.8 598L800.9 606.4L798.8 616.8L796.7 627.3L795.1 641.9L793.2 654.5L789.4 661.8L785.9 668L784.6 677.5L783.8 686.9L779 680.6L774.8 675.4L767.5 673.3L762.9 670.1L759.1 661.8L755.3 654.5L753.2 641.9L758 631.5L763.3 620L768.5 608.5L772.7 599L779 593.4L786.3 587.5"/>
<path d="M725.6 575L727.7 581.3L734 584.4L731.9 591.7L725.6 595.9L719.4 598L713.1 602.2L708.9 606.4L705.8 612.6L701.6 616.8L696.4 622L690.1 626.2L684.9 629.4L677.5 630.4L671.3 632.5L668.1 636.7L671.3 641.9L672.3 647.1L665 653.4"/>
<path d="M708.9 592.8L715.2 590.7L719.4 594.9L713.1 597L717.3 601.1L710 603.2L712 598"/>
<path d="M697.4 599L701.6 599L701.6 608.5L698.5 611.6L704.7 613.7L700.5 616.8"/>
<path d="M727.7 583.4L735 585.5L730.9 588.6L734 591.7"/>
<path d="M716.6 587.3L714.1 587.5L713.3 584.8L713.5 584.4"/>
<path d="M719.6 585.7L720 584.4L720.4 587.1L721 587.5"/>
<path d="M709.5 595.5L712.3 592.8L714.3 591.5L712.3 589.2"/>
<path d="M716.2 599.7L713.9 600.1L712 597.8L713.3 598.2L714.1 598.2"/>
<path d="M722.3 599L722.9 598.8L721.7 600.5L722.7 599L723.3 599L725.4 600.5L724.2 603.2"/>
<path d="M711 592.4L709.1 592.1L707.9 593.2L709.3 593.6L711.6 592.6L712.7 593.2"/>
<path d="M723.5 593L726.3 592.8L727.1 590.3L728.4 591.1"/>
<path d="M734.8 599.9L735 602.2L734.2 603.2L733.4 603.2L733.2 601.6L732.1 603"/>
<path d="M698.9 619.1L697.2 616.6L696.4 618.3L696.4 617.9L696.4 617.7"/>
<path d="M700.8 611.4L698.5 609.9L696.4 608.5L696.4 611L696.4 608.7L696.4 611.6L696.4 612.2"/>
<path d="M700.8 613.3L699.1 610.8L701.6 611L699.7 612.6L700.3 612.8L697.6 614.1"/>
<path d="M698 617.2L699.5 619.3L698.2 618.5L700.3 616.4L702 614.1L703.1 615.4L705.6 617.2"/>
<path d="M687.2 624.3L685.5 625.2L684.4 625L685.1 624.1L687.6 625.2"/>
<path d="M692.8 621.8L695.3 621.4L693.4 620L691.3 622L694.3 620L695.3 621.6L697.6 624.1"/>
<path d="M681.7 622.5L684 624.1L686.5 623.5L685.5 620.8L686.7 620L686.3 622.3L688.4 620.2"/>
<path d="M731.1 611L728.4 609.9L727.7 609.1L729 607.6"/>
<path d="M697 600.7L696.4 603.4L696.4 600.7L697.2 600.3"/>
<path d="M725.4 587.8L725.8 588.6L726.7 591.3L725.8 593"/>
<path d="M710.2 599.3L710.6 601.1L708.7 600.9L710.6 602L708.5 603.6L708.7 604.7"/>
<path d="M716 599.5L713.5 596.7L712.3 597.2L714.1 596.3"/>
<path d="M710.4 590.3L712.7 590.1L711 588L711.6 585.9L713.3 585.7L712.5 583.6"/>
<path d="M724.4 584.4L722.5 587.1L719.8 586.7L717.1 588.6L718.1 591.3L720 594L720.2 596.7"/>
<path d="M724.6 592.1L724.6 589.4L723.1 589.6L724.6 589.4L723.3 587.1L723.8 588L724.8 588.4"/>
<path d="M697.2 633.8L695.5 631.7L693.6 632.9L694.9 635.8L696.6 634.4"/>
<path d="M704.3 613.1L706.4 615.8L704.1 616L706.8 617.2L706.4 616.2L706.8 613.7L706.8 615.8"/>
<path d="M678.6 620.8L676.1 621.6L677.1 618.9L675.5 618.1L676.9 617L675.2 617.4"/>
<path d="M678.4 634L680.7 632.5L681.9 635L679.6 635L677.5 632.9L677.5 634L680.3 631.7"/>
<path d="M690.3 637.7L690.5 636.1L691.1 634.8L692 635.6L691.3 637.3"/>
<path d="M687 624.3L685.5 622.5L685.9 622.3L688 620.8L687.4 618.1L687 617"/>
<path d="M446.5 220L444.2 224.7L444.8 228.3L441.8 231.2L436.5 235.4L435.3 240.1L437.1 246L441.8 251.9L443.6 256.6L440.6 264.9L434.1 274.4L434.7 282.6L437.7 289.7L437.1 296.8L439 306.6"/>
<path d="M414 388L414.5 387.3L422.7 391.4L433.6 398.2L434 403L427 404.3"/>
</g>
</g>
<g clip-path="url(#cp)" fill="none" stroke="#8000ff" stroke-width="1.9">
<circle cx="459" cy="159.2" r="4.8"/>
<circle cx="577.8" cy="176" r="4.8"/>
<circle cx="600.2" cy="197.3" r="4.8"/>
<circle cx="734" cy="95" r="4.8"/>
<circle cx="326.9" cy="232.4" r="4.8"/>
<circle cx="258.9" cy="303.5" r="4.8"/>
<circle cx="397.4" cy="355.8" r="4.8"/>
<circle cx="487.3" cy="245" r="4.8"/>
<circle cx="537" cy="236" r="4.8"/>
<circle cx="605.4" cy="270.7" r="4.8"/>
<circle cx="523.2" cy="334.9" r="4.8"/>
<circle cx="261.5" cy="462" r="4.8"/>
<circle cx="331.7" cy="496.7" r="4.8"/>
<circle cx="631.1" cy="410.5" r="4.8"/>
<circle cx="553.8" cy="458.6" r="4.8"/>
<circle cx="604.4" cy="508.4" r="4.8"/>
<circle cx="521.8" cy="529.7" r="4.8"/>
<circle cx="671.3" cy="400.1" r="4.8"/>
<circle cx="748.6" cy="411.6" r="4.8"/>
<circle cx="718.9" cy="446.1" r="4.8"/>
<circle cx="714.8" cy="571.5" r="4.8"/>
<circle cx="336.7" cy="584.8" r="4.8"/>
<circle cx="213.4" cy="627.3" r="4.8"/>
<circle cx="387.5" cy="694.8" r="4.8"/>
<circle cx="542.1" cy="678.5" r="4.8"/>
</g>
<rect x="207" y="50" width="686" height="700" fill="none" stroke="#000" stroke-width="2" shape-rendering="crispEdges"/>
<g stroke="#000" stroke-width="1" shape-rendering="crispEdges">
<line x1="197" x2="206" y1="64.5" y2="64.5"/>
<line x1="197" x2="206" y1="153.5" y2="153.5"/>
<line x1="197" x2="206" y1="242.5" y2="242.5"/>
<line x1="197" x2="206" y1="331.5" y2="331.5"/>
<line x1="197" x2="206" y1="420.5" y2="420.5"/>
<line x1="197" x2="206" y1="509.5" y2="509.5"/>
<line x1="197" x2="206" y1="598.5" y2="598.5"/>
<line x1="197" x2="206" y1="687.5" y2="687.5"/>
<line y1="750" y2="761" x1="215.5" x2="215.5"/>
<line y1="750" y2="761" x1="313.5" x2="313.5"/>
<line y1="750" y2="761" x1="411.5" x2="411.5"/>
<line y1="750" y2="761" x1="509.5" x2="509.5"/>
<line y1="750" y2="761" x1="606.5" x2="606.5"/>
<line y1="750" y2="761" x1="704.5" x2="704.5"/>
<line y1="750" y2="761" x1="801.5" x2="801.5"/>
<line y1="750" y2="761" x1="892.5" x2="892.5"/>
</g>
<g shape-rendering="crispEdges" stroke="#000" stroke-width="1">
<rect x="956.5" y="249.5" width="40" height="51.0" fill="#ffff00"/>
<rect x="956.5" y="300.5" width="40" height="50.0" fill="#ffff00"/>
<rect x="956.5" y="350.5" width="40" height="50.0" fill="#7d0023"/>
<rect x="956.5" y="400.5" width="40" height="50.0" fill="#cd0069"/>
<rect x="956.5" y="450.5" width="40" height="50.0" fill="#ff0000"/>
<rect x="956.5" y="500.5" width="40" height="50.0" fill="#ff8000"/>
<rect x="956.5" y="550.5" width="40" height="50.0" fill="#00e600"/>
</g>
<g id="title">
<text x="170.5" y="33.6" font-family="Liberation Serif, 'Noto Serif CJK SC', serif" font-size="23" fill="#000" textLength="56.0" lengthAdjust="spacingAndGlyphs">2026</text>
<text x="239.2" y="33.1" font-family="Liberation Serif, 'Noto Serif CJK SC', serif" font-size="21.5" fill="#000" text-anchor="middle">年</text>
<text x="250.9" y="33.6" font-family="Liberation Serif, 'Noto Serif CJK SC', serif" font-size="23" fill="#000" textLength="27.1" lengthAdjust="spacingAndGlyphs">03</text>
<text x="290.7" y="33.1" font-family="Liberation Serif, 'Noto Serif CJK SC', serif" font-size="21.5" fill="#000" text-anchor="middle">月</text>
<text x="310.8" y="33.6" font-family="Liberation Serif, 'Noto Serif CJK SC', serif" font-size="23" fill="#000" textLength="24.7" lengthAdjust="spacingAndGlyphs">19</text>
<text x="345.2" y="33.1" font-family="Liberation Serif, 'Noto Serif CJK SC', serif" font-size="21.5" fill="#000" text-anchor="middle">日</text>
<text x="356.6" y="33.6" font-family="Liberation Serif, 'Noto Serif CJK SC', serif" font-size="23" fill="#000" textLength="127.4" lengthAdjust="spacingAndGlyphs">WRF/cmaq</text>
<text x="494.1" y="33.1" font-family="Liberation Serif, 'Noto Serif CJK SC', serif" font-size="21.5" fill="#000" text-anchor="middle">模</text>
<text x="515.0" y="33.1" font-family="Liberation Serif, 'Noto Serif CJK SC', serif" font-size="21.5" fill="#000" text-anchor="middle">式</text>
<text x="529.6" y="33.6" font-family="Liberation Serif, 'Noto Serif CJK SC', serif" font-size="23" fill="#000" textLength="24.9" lengthAdjust="spacingAndGlyphs">12</text>
<text x="555.5" y="33.6" font-family="Liberation Serif, 'Noto Serif CJK SC', serif" font-size="23" fill="#000" textLength="39.5" lengthAdjust="spacingAndGlyphs">km</text>
<text x="608.6" y="33.1" font-family="Liberation Serif, 'Noto Serif CJK SC', serif" font-size="21.5" fill="#000" text-anchor="middle">预</text>
<text x="633.5" y="33.1" font-family="Liberation Serif, 'Noto Serif CJK SC', serif" font-size="21.5" fill="#000" text-anchor="middle">报</text>
<text x="659.0" y="33.1" font-family="Liberation Serif, 'Noto Serif CJK SC', serif" font-size="21.5" fill="#000" text-anchor="middle">产</text>
<text x="683.7" y="33.1" font-family="Liberation Serif, 'Noto Serif CJK SC', serif" font-size="21.5" fill="#000" text-anchor="middle">品</text>
<text x="695.5" y="33.6" font-family="Liberation Serif, 'Noto Serif CJK SC', serif" font-size="23">:</text>
<text x="703.3" y="33.6" font-family="Liberation Serif, 'Noto Serif CJK SC', serif" font-size="23" fill="#000" textLength="27.7" lengthAdjust="spacingAndGlyphs">03</text>
<text x="744.1" y="33.1" font-family="Liberation Serif, 'Noto Serif CJK SC', serif" font-size="21.5" fill="#000" text-anchor="middle">月</text>
<text x="764.4" y="33.6" font-family="Liberation Serif, 'Noto Serif CJK SC', serif" font-size="23" fill="#000" textLength="25.6" lengthAdjust="spacingAndGlyphs">19</text>
<text x="800.4" y="33.1" font-family="Liberation Serif, 'Noto Serif CJK SC', serif" font-size="21.5" fill="#000" text-anchor="middle">日</text>
<text x="810.0" y="33.6" font-family="Liberation Serif, 'Noto Serif CJK SC', serif" font-size="23" fill="#000" textLength="26.5" lengthAdjust="spacingAndGlyphs">22</text>
<text x="848.2" y="33.1" font-family="Liberation Serif, 'Noto Serif CJK SC', serif" font-size="21.5" fill="#000" text-anchor="middle">时</text>
<text x="871.3" y="33.6" font-family="Liberation Serif, 'Noto Serif CJK SC', serif" font-size="22" fill="#ff2020" textLength="112.2" lengthAdjust="spacingAndGlyphs">PRIMARY</text>
</g>
<text x="1002.3" y="283.8" font-family="Liberation Serif, 'Noto Serif CJK SC', serif" font-size="23.5" fill="#000" textLength="70.2" lengthAdjust="spacingAndGlyphs">o3_8h</text>
<text x="1002.3" y="333.9" font-family="Liberation Serif, 'Noto Serif CJK SC', serif" font-size="23.5" fill="#000" textLength="70.2" lengthAdjust="spacingAndGlyphs">o3_1h</text>
<text x="1002.3" y="383.9" font-family="Liberation Serif, 'Noto Serif CJK SC', serif" font-size="23.5" fill="#000" textLength="64.7" lengthAdjust="spacingAndGlyphs">pm10</text>
<text x="1002.3" y="434.0" font-family="Liberation Serif, 'Noto Serif CJK SC', serif" font-size="23.5" fill="#000" textLength="71.2" lengthAdjust="spacingAndGlyphs">pm2.5</text>
<text x="1002.3" y="484.1" font-family="Liberation Serif, 'Noto Serif CJK SC', serif" font-size="23.5" fill="#000" textLength="25.7" lengthAdjust="spacingAndGlyphs">co</text>
<text x="1002.3" y="534.1" font-family="Liberation Serif, 'Noto Serif CJK SC', serif" font-size="23.5" fill="#000" textLength="41.7" lengthAdjust="spacingAndGlyphs">no2</text>
<text x="1002.3" y="584.2" font-family="Liberation Serif, 'Noto Serif CJK SC', serif" font-size="23.5" fill="#000" textLength="38.7" lengthAdjust="spacingAndGlyphs">so2</text>
<text x="146.0" y="72.1" font-family="Liberation Serif, 'Noto Serif CJK SC', serif" font-size="21" fill="#ff2020" textLength="45.2" lengthAdjust="spacingAndGlyphs">44°N</text>
<text x="146.0" y="161.1" font-family="Liberation Serif, 'Noto Serif CJK SC', serif" font-size="21" fill="#ff2020" textLength="45.2" lengthAdjust="spacingAndGlyphs">41°N</text>
<text x="146.0" y="250.1" font-family="Liberation Serif, 'Noto Serif CJK SC', serif" font-size="21" fill="#ff2020" textLength="45.2" lengthAdjust="spacingAndGlyphs">38°N</text>
<text x="146.0" y="339.1" font-family="Liberation Serif, 'Noto Serif CJK SC', serif" font-size="21" fill="#ff2020" textLength="45.2" lengthAdjust="spacingAndGlyphs">35°N</text>
<text x="146.0" y="428.1" font-family="Liberation Serif, 'Noto Serif CJK SC', serif" font-size="21" fill="#ff2020" textLength="45.2" lengthAdjust="spacingAndGlyphs">32°N</text>
<text x="146.0" y="517.1" font-family="Liberation Serif, 'Noto Serif CJK SC', serif" font-size="21" fill="#ff2020" textLength="45.2" lengthAdjust="spacingAndGlyphs">29°N</text>
<text x="146.0" y="606.1" font-family="Liberation Serif, 'Noto Serif CJK SC', serif" font-size="21" fill="#ff2020" textLength="45.2" lengthAdjust="spacingAndGlyphs">26°N</text>
<text x="146.0" y="695.1" font-family="Liberation Serif, 'Noto Serif CJK SC', serif" font-size="21" fill="#ff2020" textLength="45.2" lengthAdjust="spacingAndGlyphs">23°N</text>
<text x="197.5" y="783.3" font-family="Liberation Serif, 'Noto Serif CJK SC', serif" font-size="21" fill="#ff2020" textLength="54.7" lengthAdjust="spacingAndGlyphs">103°E</text>
<text x="295.5" y="783.3" font-family="Liberation Serif, 'Noto Serif CJK SC', serif" font-size="21" fill="#ff2020" textLength="54.7" lengthAdjust="spacingAndGlyphs">106°E</text>
<text x="393.5" y="783.3" font-family="Liberation Serif, 'Noto Serif CJK SC', serif" font-size="21" fill="#ff2020" textLength="54.7" lengthAdjust="spacingAndGlyphs">109°E</text>
<text x="491.5" y="783.3" font-family="Liberation Serif, 'Noto Serif CJK SC', serif" font-size="21" fill="#ff2020" textLength="54.7" lengthAdjust="spacingAndGlyphs">112°E</text>
<text x="588.5" y="783.3" font-family="Liberation Serif, 'Noto Serif CJK SC', serif" font-size="21" fill="#ff2020" textLength="54.7" lengthAdjust="spacingAndGlyphs">115°E</text>
<text x="686.5" y="783.3" font-family="Liberation Serif, 'Noto Serif CJK SC', serif" font-size="21" fill="#ff2020" textLength="54.7" lengthAdjust="spacingAndGlyphs">118°E</text>
<text x="783.5" y="783.3" font-family="Liberation Serif, 'Noto Serif CJK SC', serif" font-size="21" fill="#ff2020" textLength="54.7" lengthAdjust="spacingAndGlyphs">121°E</text>
<text x="874.5" y="783.3" font-family="Liberation Serif, 'Noto Serif CJK SC', serif" font-size="21" fill="#ff2020" textLength="54.7" lengthAdjust="spacingAndGlyphs">124°E</text>
<g id="copy">
<text x="359.6" y="811.5" font-family="Liberation Serif, 'Noto Serif CJK SC', serif" font-size="20.5" fill="#000" textLength="82.4" lengthAdjust="spacingAndGlyphs">版权所有</text>
<text x="442.8" y="811.5" font-family="Liberation Serif, 'Noto Serif CJK SC', serif" font-size="20.5">:</text>
<text x="453.6" y="811.5" font-family="Liberation Serif, 'Noto Serif CJK SC', serif" font-size="20.5" fill="#000" textLength="80.8" lengthAdjust="spacingAndGlyphs">南京大学</text>
<text x="532.2" y="813.6" font-family="Liberation Serif, 'Noto Serif CJK SC', serif" font-size="32">|</text>
<text x="546.7" y="811.5" font-family="Liberation Serif, 'Noto Serif CJK SC', serif" font-size="20.5" fill="#000" textLength="197.3" lengthAdjust="spacingAndGlyphs">南京创蓝科技有限公司</text>
</g>
</svg>
</body></html>
